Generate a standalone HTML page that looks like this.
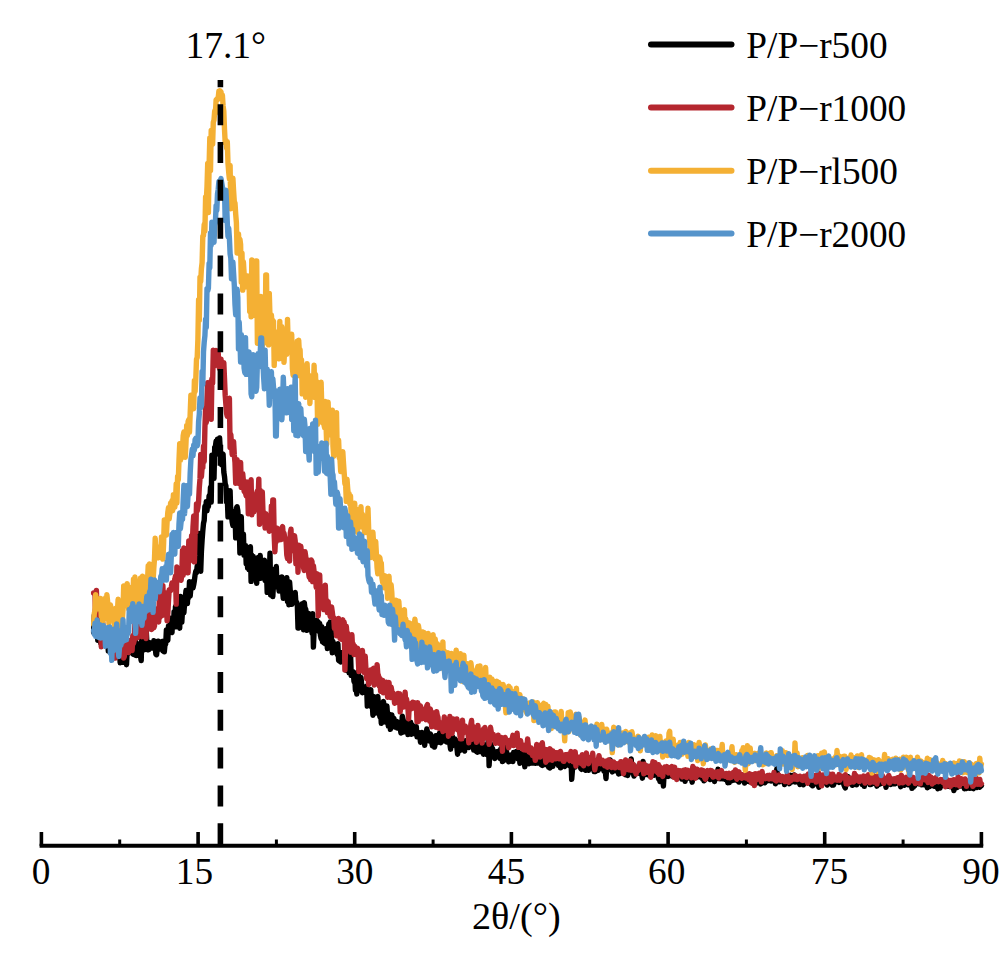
<!DOCTYPE html>
<html><head><meta charset="utf-8"><title>XRD</title>
<style>
html,body{margin:0;padding:0;background:#fff;}
body{width:1000px;height:954px;overflow:hidden;font-family:"Liberation Serif",serif;}
svg{display:block;}
text{font-family:"Liberation Serif",serif;fill:#000;}
</style></head><body>
<svg width="1000" height="954" viewBox="0 0 1000 954">
<rect width="1000" height="954" fill="#fff"/>
<g id="curves">
<path d="M93.6 632.1 L94.3 615.5 L95.0 617.5 L95.7 607.9 L96.4 631.0 L97.1 607.8 L97.8 640.3 L98.5 622.4 L99.2 631.9 L99.9 628.8 L100.6 642.9 L101.3 617.2 L102.0 631.4 L102.7 631.9 L103.4 644.3 L104.1 628.5 L104.8 636.4 L105.5 632.2 L106.2 640.0 L106.9 645.0 L107.6 633.5 L108.3 651.0 L109.0 650.2 L109.7 648.2 L110.4 651.7 L111.1 640.7 L111.8 645.2 L112.5 639.7 L113.2 645.0 L113.9 651.2 L114.6 642.8 L115.3 645.3 L116.0 643.7 L116.7 643.0 L117.4 644.6 L118.1 649.8 L118.8 642.3 L119.5 652.3 L120.2 662.7 L120.9 656.1 L121.6 649.3 L122.3 644.2 L123.0 645.1 L123.7 662.4 L124.4 650.5 L125.1 645.4 L125.8 651.2 L126.5 664.7 L127.2 650.4 L127.9 653.8 L128.6 651.4 L129.3 646.6 L130.0 640.8 L130.7 646.2 L131.4 647.0 L132.1 652.4 L132.8 654.0 L133.5 654.4 L134.2 649.4 L134.9 653.5 L135.6 641.4 L136.3 655.6 L137.0 650.0 L137.7 643.8 L138.4 649.3 L139.1 644.9 L139.8 653.4 L140.5 656.0 L141.2 660.6 L141.9 634.2 L142.6 633.6 L143.3 640.1 L144.0 644.7 L144.7 649.7 L145.4 647.3 L146.1 628.4 L146.8 641.2 L147.5 649.7 L148.2 645.6 L148.9 649.7 L149.6 642.7 L150.3 643.1 L151.0 646.1 L151.7 648.0 L152.4 646.6 L153.1 646.3 L153.8 640.8 L154.5 648.6 L155.2 646.8 L155.9 654.2 L156.6 654.7 L157.3 647.3 L158.0 641.1 L158.7 641.4 L159.4 649.1 L160.1 646.6 L160.8 643.5 L161.5 646.3 L162.2 641.5 L162.9 650.7 L163.6 641.3 L164.3 651.9 L165.0 644.3 L165.7 644.1 L166.4 629.9 L167.1 637.7 L167.8 640.4 L168.5 626.0 L169.2 629.6 L169.9 630.7 L170.6 618.3 L171.3 629.9 L172.0 632.6 L172.7 618.1 L173.4 626.1 L174.1 611.7 L174.8 620.3 L175.5 606.5 L176.2 626.9 L176.9 620.2 L177.6 615.6 L178.3 608.5 L179.0 623.8 L179.7 628.2 L180.4 596.4 L181.1 620.2 L181.8 622.3 L182.5 610.8 L183.2 597.2 L183.9 612.8 L184.6 602.8 L185.3 597.6 L186.0 590.5 L186.7 603.4 L187.4 603.6 L188.1 589.9 L188.8 597.6 L189.5 581.6 L190.2 596.1 L190.9 587.5 L191.6 583.3 L192.3 581.7 L193.0 587.9 L193.7 584.7 L194.4 580.5 L195.1 574.7 L195.8 571.2 L196.5 572.8 L197.2 566.0 L197.9 567.0 L198.6 555.4 L199.3 533.5 L200.0 563.0 L200.7 571.3 L201.4 551.6 L202.1 540.0 L202.8 530.9 L203.5 523.4 L204.2 520.3 L204.9 506.2 L205.6 509.3 L206.3 501.6 L207.0 510.9 L207.7 502.1 L208.4 506.6 L209.1 495.6 L209.8 501.3 L210.5 487.1 L211.2 502.1 L211.9 455.3 L212.6 460.8 L213.3 468.3 L214.0 478.4 L214.7 447.0 L215.4 446.6 L216.1 441.1 L216.8 454.2 L217.5 439.2 L218.2 448.5 L218.9 440.5 L219.6 437.9 L220.3 450.7 L221.0 455.0 L221.7 464.8 L222.4 454.9 L223.1 454.4 L223.8 472.0 L224.5 476.5 L225.2 483.9 L225.9 485.9 L226.6 502.0 L227.3 497.9 L228.0 516.8 L228.7 512.4 L229.4 516.1 L230.1 490.6 L230.8 515.3 L231.5 515.9 L232.2 522.0 L232.9 525.6 L233.6 511.8 L234.3 524.0 L235.0 511.1 L235.7 537.9 L236.4 508.2 L237.1 506.7 L237.8 510.4 L238.5 520.5 L239.2 520.9 L239.9 553.0 L240.6 533.8 L241.3 516.7 L242.0 552.6 L242.7 538.8 L243.4 534.2 L244.1 555.2 L244.8 554.0 L245.5 545.4 L246.2 563.6 L246.9 553.0 L247.6 567.9 L248.3 558.9 L249.0 569.7 L249.7 557.7 L250.4 546.7 L251.1 581.4 L251.8 555.3 L252.5 559.7 L253.2 556.4 L253.9 562.1 L254.6 567.2 L255.3 567.8 L256.0 572.6 L256.7 583.3 L257.4 566.8 L258.1 557.5 L258.8 558.6 L259.5 563.8 L260.2 555.5 L260.9 578.3 L261.6 567.2 L262.3 569.5 L263.0 572.8 L263.7 561.2 L264.4 560.4 L265.1 580.6 L265.8 580.8 L266.5 572.1 L267.2 592.4 L267.9 565.6 L268.6 574.3 L269.3 575.5 L270.0 553.3 L270.7 594.9 L271.4 581.4 L272.1 569.3 L272.8 596.5 L273.5 583.9 L274.2 582.8 L274.9 574.0 L275.6 580.4 L276.3 566.5 L277.0 586.9 L277.7 576.9 L278.4 581.6 L279.1 591.1 L279.8 583.4 L280.5 583.7 L281.2 584.6 L281.9 576.9 L282.6 591.4 L283.3 598.4 L284.0 592.6 L284.7 594.6 L285.4 580.5 L286.1 581.6 L286.8 577.7 L287.5 601.4 L288.2 589.7 L288.9 604.7 L289.6 582.0 L290.3 591.1 L291.0 596.5 L291.7 604.4 L292.4 598.2 L293.1 600.4 L293.8 599.8 L294.5 602.1 L295.2 592.4 L295.9 603.2 L296.6 602.0 L297.3 604.1 L298.0 628.0 L298.7 628.0 L299.4 606.8 L300.1 606.0 L300.8 612.8 L301.5 616.7 L302.2 603.7 L302.9 617.1 L303.6 629.9 L304.3 602.6 L305.0 608.7 L305.7 609.1 L306.4 614.7 L307.1 630.4 L307.8 618.3 L308.5 613.4 L309.2 624.4 L309.9 615.5 L310.6 629.7 L311.3 624.0 L312.0 633.1 L312.7 613.6 L313.4 647.1 L314.1 630.7 L314.8 630.0 L315.5 625.2 L316.2 620.7 L316.9 620.3 L317.6 626.6 L318.3 622.2 L319.0 631.2 L319.7 623.5 L320.4 635.2 L321.1 638.5 L321.8 626.6 L322.5 641.7 L323.2 631.6 L323.9 642.8 L324.6 638.1 L325.3 643.9 L326.0 628.8 L326.7 636.2 L327.4 648.5 L328.1 633.8 L328.8 624.0 L329.5 625.5 L330.2 622.1 L330.9 626.0 L331.6 639.5 L332.3 652.9 L333.0 641.5 L333.7 648.1 L334.4 646.0 L335.1 648.0 L335.8 647.8 L336.5 648.8 L337.2 654.4 L337.9 643.8 L338.6 660.4 L339.3 660.8 L340.0 654.0 L340.7 662.1 L341.4 652.7 L342.1 654.9 L342.8 660.7 L343.5 659.3 L344.2 658.4 L344.9 657.7 L345.6 659.4 L346.3 670.4 L347.0 651.7 L347.7 668.2 L348.4 665.3 L349.1 672.9 L349.8 672.6 L350.5 651.8 L351.2 675.3 L351.9 674.7 L352.6 673.8 L353.3 671.8 L354.0 681.5 L354.7 674.4 L355.4 690.0 L356.1 683.0 L356.8 694.1 L357.5 676.7 L358.2 671.7 L358.9 688.4 L359.6 690.4 L360.3 686.3 L361.0 677.5 L361.7 685.3 L362.4 692.8 L363.1 688.8 L363.8 689.6 L364.5 690.8 L365.2 687.2 L365.9 690.5 L366.6 686.2 L367.3 706.1 L368.0 693.8 L368.7 700.4 L369.4 692.5 L370.1 704.1 L370.8 689.6 L371.5 706.7 L372.2 702.1 L372.9 715.2 L373.6 696.5 L374.3 705.1 L375.0 707.5 L375.7 713.1 L376.4 704.5 L377.1 708.1 L377.8 696.5 L378.5 704.5 L379.2 712.4 L379.9 716.7 L380.6 709.8 L381.3 723.3 L382.0 722.4 L382.7 713.2 L383.4 701.4 L384.1 705.6 L384.8 711.6 L385.5 722.1 L386.2 718.2 L386.9 705.9 L387.6 716.1 L388.3 726.1 L389.0 716.0 L389.7 714.4 L390.4 729.4 L391.1 719.3 L391.8 714.9 L392.5 721.6 L393.2 720.2 L393.9 718.2 L394.6 727.0 L395.3 726.9 L396.0 725.8 L396.7 721.3 L397.4 728.1 L398.1 722.3 L398.8 725.3 L399.5 728.5 L400.2 727.7 L400.9 733.0 L401.6 726.5 L402.3 716.2 L403.0 719.1 L403.7 732.0 L404.4 724.0 L405.1 727.9 L405.8 722.1 L406.5 731.6 L407.2 723.6 L407.9 734.5 L408.6 725.0 L409.3 733.5 L410.0 731.6 L410.7 722.3 L411.4 734.4 L412.1 725.0 L412.8 725.7 L413.5 733.5 L414.2 727.4 L414.9 727.9 L415.6 729.4 L416.3 726.7 L417.0 736.9 L417.7 735.2 L418.4 732.4 L419.1 732.7 L419.8 735.7 L420.5 742.3 L421.2 738.5 L421.9 732.5 L422.6 738.9 L423.3 735.2 L424.0 735.3 L424.7 745.2 L425.4 735.1 L426.1 735.3 L426.8 729.0 L427.5 731.9 L428.2 740.6 L428.9 735.6 L429.6 741.1 L430.3 733.9 L431.0 735.6 L431.7 742.1 L432.4 745.7 L433.1 741.9 L433.8 744.8 L434.5 747.1 L435.2 744.2 L435.9 735.6 L436.6 739.3 L437.3 742.7 L438.0 738.1 L438.7 742.1 L439.4 733.1 L440.1 736.6 L440.8 742.7 L441.5 730.5 L442.2 735.6 L442.9 740.5 L443.6 733.1 L444.3 741.1 L445.0 737.4 L445.7 739.7 L446.4 740.0 L447.1 742.1 L447.8 738.9 L448.5 741.8 L449.2 738.9 L449.9 744.1 L450.6 749.2 L451.3 742.8 L452.0 742.7 L452.7 737.0 L453.4 745.3 L454.1 739.0 L454.8 738.9 L455.5 745.0 L456.2 743.5 L456.9 747.6 L457.6 754.2 L458.3 740.7 L459.0 743.7 L459.7 750.8 L460.4 747.5 L461.1 746.5 L461.8 749.2 L462.5 741.1 L463.2 746.5 L463.9 750.0 L464.6 751.0 L465.3 740.7 L466.0 743.2 L466.7 746.0 L467.4 742.2 L468.1 742.9 L468.8 747.6 L469.5 743.3 L470.2 737.3 L470.9 746.6 L471.6 743.4 L472.3 742.3 L473.0 738.9 L473.7 750.0 L474.4 729.0 L475.1 738.9 L475.8 745.1 L476.5 751.6 L477.2 752.1 L477.9 741.9 L478.6 746.2 L479.3 740.8 L480.0 751.5 L480.7 741.3 L481.4 747.0 L482.1 752.1 L482.8 747.1 L483.5 754.2 L484.2 744.7 L484.9 750.0 L485.6 752.2 L486.3 748.3 L487.0 754.7 L487.7 751.4 L488.4 737.4 L489.1 765.6 L489.8 752.3 L490.5 750.3 L491.2 744.4 L491.9 750.6 L492.6 748.6 L493.3 753.3 L494.0 752.4 L494.7 758.5 L495.4 751.9 L496.1 753.6 L496.8 753.2 L497.5 751.4 L498.2 751.4 L498.9 756.7 L499.6 758.1 L500.3 750.3 L501.0 748.6 L501.7 752.9 L502.4 761.6 L503.1 753.5 L503.8 760.6 L504.5 751.1 L505.2 754.8 L505.9 744.8 L506.6 752.4 L507.3 753.7 L508.0 757.1 L508.7 761.8 L509.4 755.7 L510.1 761.2 L510.8 758.4 L511.5 759.8 L512.2 754.5 L512.9 761.6 L513.6 752.5 L514.3 758.5 L515.0 753.2 L515.7 755.0 L516.4 751.6 L517.1 755.3 L517.8 758.7 L518.5 757.2 L519.2 752.7 L519.9 763.2 L520.6 759.2 L521.3 761.8 L522.0 761.1 L522.7 753.9 L523.4 751.4 L524.1 755.3 L524.8 766.8 L525.5 755.1 L526.2 762.0 L526.9 757.0 L527.6 760.7 L528.3 752.9 L529.0 763.8 L529.7 759.6 L530.4 763.1 L531.1 760.7 L531.8 763.0 L532.5 759.9 L533.2 763.1 L533.9 755.2 L534.6 756.9 L535.3 763.4 L536.0 760.8 L536.7 760.3 L537.4 760.5 L538.1 763.0 L538.8 759.2 L539.5 763.1 L540.2 758.2 L540.9 760.1 L541.6 765.0 L542.3 765.4 L543.0 757.9 L543.7 764.7 L544.4 758.2 L545.1 764.5 L545.8 755.4 L546.5 758.2 L547.2 760.3 L547.9 761.6 L548.6 767.2 L549.3 765.5 L550.0 767.9 L550.7 766.7 L551.4 761.6 L552.1 761.7 L552.8 766.4 L553.5 763.0 L554.2 762.3 L554.9 758.3 L555.6 762.6 L556.3 753.4 L557.0 761.5 L557.7 759.7 L558.4 765.5 L559.1 761.6 L559.8 762.1 L560.5 767.9 L561.2 759.7 L561.9 764.5 L562.6 756.9 L563.3 763.8 L564.0 764.9 L564.7 766.5 L565.4 760.5 L566.1 764.7 L566.8 764.8 L567.5 763.7 L568.2 764.3 L568.9 765.4 L569.6 765.2 L570.3 757.8 L571.0 759.9 L571.7 779.3 L572.4 770.6 L573.1 759.5 L573.8 765.8 L574.5 766.5 L575.2 767.0 L575.9 765.0 L576.6 761.5 L577.3 764.1 L578.0 763.1 L578.7 765.3 L579.4 764.0 L580.1 764.6 L580.8 768.5 L581.5 769.3 L582.2 761.3 L582.9 763.8 L583.6 762.8 L584.3 769.5 L585.0 765.4 L585.7 770.4 L586.4 764.2 L587.1 765.9 L587.8 761.5 L588.5 770.3 L589.2 764.9 L589.9 761.3 L590.6 764.3 L591.3 758.8 L592.0 766.3 L592.7 766.8 L593.4 767.5 L594.1 771.5 L594.8 765.7 L595.5 771.5 L596.2 767.9 L596.9 766.3 L597.6 760.3 L598.3 770.2 L599.0 765.6 L599.7 767.4 L600.4 763.3 L601.1 768.4 L601.8 767.9 L602.5 767.7 L603.2 767.3 L603.9 771.1 L604.6 770.9 L605.3 770.3 L606.0 778.6 L606.7 766.2 L607.4 767.0 L608.1 765.1 L608.8 769.7 L609.5 766.3 L610.2 760.0 L610.9 764.8 L611.6 768.9 L612.3 771.9 L613.0 763.9 L613.7 767.0 L614.4 768.5 L615.1 766.7 L615.8 770.7 L616.5 769.2 L617.2 770.2 L617.9 767.0 L618.6 774.1 L619.3 769.4 L620.0 773.5 L620.7 768.2 L621.4 771.5 L622.1 767.6 L622.8 766.9 L623.5 767.7 L624.2 769.7 L624.9 769.3 L625.6 774.8 L626.3 763.8 L627.0 766.9 L627.7 775.5 L628.4 772.2 L629.1 764.7 L629.8 772.0 L630.5 771.3 L631.2 758.9 L631.9 769.6 L632.6 770.7 L633.3 773.0 L634.0 776.1 L634.7 771.3 L635.4 774.1 L636.1 770.7 L636.8 768.6 L637.5 768.5 L638.2 772.9 L638.9 765.5 L639.6 773.5 L640.3 768.2 L641.0 770.5 L641.7 773.2 L642.4 778.2 L643.1 761.5 L643.8 769.5 L644.5 772.1 L645.2 770.3 L645.9 774.6 L646.6 766.0 L647.3 773.3 L648.0 773.5 L648.7 772.5 L649.4 775.7 L650.1 768.9 L650.8 775.8 L651.5 770.6 L652.2 774.8 L652.9 771.8 L653.6 775.2 L654.3 775.2 L655.0 768.8 L655.7 772.6 L656.4 772.9 L657.1 772.5 L657.8 771.1 L658.5 778.7 L659.2 774.5 L659.9 781.5 L660.6 771.9 L661.3 770.6 L662.0 774.0 L662.7 772.1 L663.4 786.0 L664.1 774.5 L664.8 777.1 L665.5 773.2 L666.2 773.0 L666.9 773.9 L667.6 775.0 L668.3 776.4 L669.0 773.7 L669.7 772.2 L670.4 771.2 L671.1 774.0 L671.8 775.9 L672.5 775.6 L673.2 774.3 L673.9 772.7 L674.6 774.8 L675.3 776.1 L676.0 774.4 L676.7 774.9 L677.4 774.2 L678.1 777.2 L678.8 773.5 L679.5 775.3 L680.2 775.9 L680.9 776.9 L681.6 779.0 L682.3 776.8 L683.0 776.6 L683.7 770.9 L684.4 776.7 L685.1 781.4 L685.8 772.9 L686.5 772.4 L687.2 774.7 L687.9 778.1 L688.6 776.8 L689.3 774.1 L690.0 775.3 L690.7 778.3 L691.4 777.3 L692.1 782.2 L692.8 778.3 L693.5 776.6 L694.2 777.4 L694.9 774.8 L695.6 773.1 L696.3 776.3 L697.0 777.2 L697.7 772.1 L698.4 774.5 L699.1 775.0 L699.8 776.8 L700.5 775.4 L701.2 777.3 L701.9 776.4 L702.6 779.1 L703.3 771.7 L704.0 780.8 L704.7 780.2 L705.4 776.5 L706.1 778.2 L706.8 778.1 L707.5 774.6 L708.2 777.0 L708.9 778.7 L709.6 777.5 L710.3 779.5 L711.0 777.0 L711.7 777.0 L712.4 774.8 L713.1 775.9 L713.8 775.7 L714.5 781.5 L715.2 777.7 L715.9 774.5 L716.6 778.2 L717.3 776.7 L718.0 769.2 L718.7 778.5 L719.4 773.3 L720.1 778.9 L720.8 774.9 L721.5 773.7 L722.2 778.8 L722.9 773.7 L723.6 776.4 L724.3 778.2 L725.0 779.3 L725.7 779.7 L726.4 777.7 L727.1 775.7 L727.8 782.8 L728.5 776.4 L729.2 782.6 L729.9 776.9 L730.6 781.0 L731.3 780.8 L732.0 775.5 L732.7 779.1 L733.4 780.2 L734.1 780.1 L734.8 777.8 L735.5 779.2 L736.2 777.4 L736.9 775.5 L737.6 781.0 L738.3 777.2 L739.0 782.1 L739.7 780.2 L740.4 776.5 L741.1 778.3 L741.8 778.1 L742.5 776.7 L743.2 780.2 L743.9 777.7 L744.6 783.1 L745.3 781.2 L746.0 776.9 L746.7 779.1 L747.4 778.6 L748.1 775.3 L748.8 781.6 L749.5 781.7 L750.2 781.6 L750.9 778.3 L751.6 782.1 L752.3 779.0 L753.0 781.8 L753.7 784.0 L754.4 780.0 L755.1 776.2 L755.8 778.9 L756.5 781.3 L757.2 782.8 L757.9 777.1 L758.6 779.4 L759.3 780.5 L760.0 781.1 L760.7 784.0 L761.4 777.7 L762.1 779.0 L762.8 782.5 L763.5 781.0 L764.2 781.2 L764.9 782.8 L765.6 780.4 L766.3 781.4 L767.0 779.4 L767.7 776.9 L768.4 777.1 L769.1 780.5 L769.8 779.3 L770.5 778.7 L771.2 781.0 L771.9 778.1 L772.6 780.5 L773.3 780.2 L774.0 778.3 L774.7 774.8 L775.4 783.8 L776.1 781.1 L776.8 768.8 L777.5 779.4 L778.2 781.4 L778.9 779.9 L779.6 781.8 L780.3 778.1 L781.0 780.9 L781.7 780.4 L782.4 780.1 L783.1 780.0 L783.8 781.0 L784.5 784.6 L785.2 779.3 L785.9 779.6 L786.6 781.0 L787.3 780.3 L788.0 781.5 L788.7 782.4 L789.4 783.7 L790.1 780.4 L790.8 775.3 L791.5 780.5 L792.2 781.6 L792.9 780.3 L793.6 780.4 L794.3 775.0 L795.0 782.0 L795.7 780.0 L796.4 777.2 L797.1 778.8 L797.8 778.8 L798.5 782.3 L799.2 782.2 L799.9 784.5 L800.6 782.4 L801.3 777.7 L802.0 777.6 L802.7 783.6 L803.4 784.7 L804.1 780.4 L804.8 782.3 L805.5 777.5 L806.2 776.4 L806.9 778.2 L807.6 780.2 L808.3 779.8 L809.0 780.5 L809.7 779.9 L810.4 782.7 L811.1 784.4 L811.8 781.2 L812.5 785.9 L813.2 779.6 L813.9 779.9 L814.6 782.0 L815.3 779.6 L816.0 783.9 L816.7 779.6 L817.4 784.2 L818.1 781.6 L818.8 787.2 L819.5 780.1 L820.2 780.7 L820.9 781.5 L821.6 776.0 L822.3 782.6 L823.0 782.3 L823.7 781.4 L824.4 777.6 L825.1 777.6 L825.8 782.6 L826.5 784.0 L827.2 785.0 L827.9 779.1 L828.6 778.8 L829.3 780.6 L830.0 776.6 L830.7 779.9 L831.4 783.3 L832.1 785.1 L832.8 781.9 L833.5 785.1 L834.2 782.2 L834.9 781.7 L835.6 780.9 L836.3 781.7 L837.0 780.7 L837.7 781.0 L838.4 779.8 L839.1 782.4 L839.8 781.4 L840.5 777.9 L841.2 780.8 L841.9 779.4 L842.6 776.6 L843.3 782.5 L844.0 785.0 L844.7 786.9 L845.4 787.9 L846.1 779.4 L846.8 784.2 L847.5 784.0 L848.2 776.8 L848.9 783.5 L849.6 782.9 L850.3 781.9 L851.0 782.2 L851.7 781.7 L852.4 785.3 L853.1 780.6 L853.8 781.1 L854.5 781.6 L855.2 782.3 L855.9 777.6 L856.6 784.9 L857.3 782.2 L858.0 783.0 L858.7 782.2 L859.4 781.3 L860.1 780.9 L860.8 782.0 L861.5 782.1 L862.2 784.5 L862.9 782.6 L863.6 781.5 L864.3 786.4 L865.0 778.9 L865.7 778.8 L866.4 782.7 L867.1 781.4 L867.8 777.9 L868.5 781.2 L869.2 780.3 L869.9 784.6 L870.6 780.6 L871.3 784.4 L872.0 783.9 L872.7 781.6 L873.4 782.1 L874.1 783.1 L874.8 776.8 L875.5 782.9 L876.2 781.3 L876.9 786.2 L877.6 780.6 L878.3 784.8 L879.0 776.5 L879.7 784.1 L880.4 782.9 L881.1 781.7 L881.8 782.0 L882.5 781.7 L883.2 783.3 L883.9 781.8 L884.6 778.3 L885.3 781.9 L886.0 787.4 L886.7 782.5 L887.4 783.1 L888.1 781.4 L888.8 782.8 L889.5 782.9 L890.2 781.9 L890.9 784.4 L891.6 780.4 L892.3 782.2 L893.0 783.7 L893.7 782.0 L894.4 779.8 L895.1 783.8 L895.8 780.4 L896.5 781.6 L897.2 780.8 L897.9 782.4 L898.6 781.7 L899.3 781.6 L900.0 784.2 L900.7 786.7 L901.4 781.9 L902.1 783.9 L902.8 782.0 L903.5 783.0 L904.2 785.3 L904.9 782.9 L905.6 781.0 L906.3 781.2 L907.0 781.5 L907.7 782.9 L908.4 784.8 L909.1 779.9 L909.8 780.7 L910.5 780.9 L911.2 779.1 L911.9 788.3 L912.6 782.9 L913.3 787.2 L914.0 779.9 L914.7 785.9 L915.4 781.6 L916.1 782.3 L916.8 781.0 L917.5 781.1 L918.2 780.3 L918.9 783.7 L919.6 780.4 L920.3 782.4 L921.0 783.3 L921.7 784.8 L922.4 783.6 L923.1 784.1 L923.8 784.6 L924.5 783.4 L925.2 784.3 L925.9 781.4 L926.6 781.9 L927.3 787.7 L928.0 783.6 L928.7 782.1 L929.4 786.6 L930.1 783.1 L930.8 782.3 L931.5 778.1 L932.2 785.4 L932.9 781.5 L933.6 782.7 L934.3 786.3 L935.0 784.3 L935.7 783.7 L936.4 783.5 L937.1 786.4 L937.8 788.7 L938.5 782.8 L939.2 785.2 L939.9 788.1 L940.6 786.4 L941.3 782.6 L942.0 782.5 L942.7 782.9 L943.4 782.2 L944.1 782.9 L944.8 784.8 L945.5 783.0 L946.2 786.1 L946.9 784.6 L947.6 783.5 L948.3 786.2 L949.0 785.1 L949.7 785.0 L950.4 786.6 L951.1 785.7 L951.8 784.3 L952.5 786.5 L953.2 785.2 L953.9 790.6 L954.6 786.9 L955.3 787.0 L956.0 787.3 L956.7 784.8 L957.4 787.4 L958.1 784.8 L958.8 781.7 L959.5 783.6 L960.2 785.9 L960.9 781.6 L961.6 785.3 L962.3 783.4 L963.0 786.4 L963.7 782.2 L964.4 788.8 L965.1 786.6 L965.8 782.4 L966.5 788.6 L967.2 784.6 L967.9 783.6 L968.6 783.0 L969.3 786.3 L970.0 788.2 L970.7 784.0 L971.4 783.2 L972.1 782.9 L972.8 788.3 L973.5 788.7 L974.2 784.1 L974.9 786.4 L975.6 785.4 L976.3 785.3 L977.0 787.4 L977.7 786.3 L978.4 786.1 L979.1 784.9 L979.8 787.2 L980.5 785.0 L981.4 785.7" fill="none" stroke="#000000" stroke-width="5.4" stroke-linejoin="round" stroke-linecap="round"/>
<path d="M93.6 593.0 L94.3 593.0 L95.0 593.0 L95.7 626.0 L96.4 590.5 L97.1 611.9 L97.8 624.8 L98.5 613.4 L99.2 617.2 L99.9 620.4 L100.6 632.8 L101.3 646.8 L102.0 630.3 L102.7 622.2 L103.4 635.5 L104.1 627.6 L104.8 632.7 L105.5 642.4 L106.2 628.6 L106.9 635.0 L107.6 629.0 L108.3 635.1 L109.0 638.9 L109.7 630.3 L110.4 635.7 L111.1 637.0 L111.8 634.5 L112.5 631.0 L113.2 629.7 L113.9 639.6 L114.6 639.2 L115.3 658.1 L116.0 624.3 L116.7 643.5 L117.4 645.9 L118.1 653.6 L118.8 647.8 L119.5 638.5 L120.2 645.0 L120.9 649.1 L121.6 642.9 L122.3 650.9 L123.0 631.8 L123.7 658.0 L124.4 656.2 L125.1 643.2 L125.8 650.2 L126.5 646.2 L127.2 639.9 L127.9 646.4 L128.6 652.5 L129.3 641.7 L130.0 640.9 L130.7 642.2 L131.4 645.1 L132.1 650.5 L132.8 635.6 L133.5 643.3 L134.2 640.4 L134.9 624.3 L135.6 634.3 L136.3 635.7 L137.0 635.7 L137.7 637.7 L138.4 619.3 L139.1 634.2 L139.8 624.0 L140.5 621.6 L141.2 635.8 L141.9 636.7 L142.6 625.4 L143.3 636.1 L144.0 625.9 L144.7 628.5 L145.4 618.7 L146.1 638.5 L146.8 604.9 L147.5 623.9 L148.2 629.2 L148.9 607.1 L149.6 620.6 L150.3 620.6 L151.0 626.9 L151.7 629.4 L152.4 613.0 L153.1 606.9 L153.8 627.9 L154.5 625.9 L155.2 608.7 L155.9 617.2 L156.6 619.0 L157.3 617.1 L158.0 613.2 L158.7 622.0 L159.4 595.7 L160.1 617.2 L160.8 610.9 L161.5 605.1 L162.2 615.5 L162.9 585.8 L163.6 613.5 L164.3 606.2 L165.0 592.7 L165.7 604.7 L166.4 597.7 L167.1 620.7 L167.8 613.5 L168.5 600.7 L169.2 589.8 L169.9 589.6 L170.6 590.5 L171.3 587.2 L172.0 583.0 L172.7 584.3 L173.4 585.7 L174.1 582.3 L174.8 579.5 L175.5 576.0 L176.2 604.1 L176.9 567.0 L177.6 568.6 L178.3 579.1 L179.0 570.4 L179.7 575.5 L180.4 577.5 L181.1 580.3 L181.8 574.5 L182.5 550.5 L183.2 575.2 L183.9 548.0 L184.6 561.6 L185.3 556.8 L186.0 550.4 L186.7 564.0 L187.4 555.6 L188.1 572.8 L188.8 541.0 L189.5 561.0 L190.2 556.5 L190.9 551.7 L191.6 535.8 L192.3 543.9 L193.0 527.0 L193.7 516.0 L194.4 561.9 L195.1 532.8 L195.8 532.7 L196.5 503.9 L197.2 511.1 L197.9 507.5 L198.6 501.1 L199.3 487.6 L200.0 478.9 L200.7 454.5 L201.4 476.9 L202.1 467.5 L202.8 467.8 L203.5 446.1 L204.2 461.4 L204.9 428.0 L205.6 407.9 L206.3 422.5 L207.0 398.0 L207.7 382.7 L208.4 393.3 L209.1 395.1 L209.8 383.6 L210.5 381.9 L211.2 419.3 L211.9 378.9 L212.6 383.5 L213.3 350.3 L214.0 364.8 L214.7 365.6 L215.4 352.4 L216.1 350.5 L216.8 357.6 L217.5 353.5 L218.2 352.9 L218.9 366.3 L219.6 368.8 L220.3 363.1 L221.0 359.1 L221.7 367.4 L222.4 371.7 L223.1 374.0 L223.8 362.7 L224.5 378.3 L225.2 395.4 L225.9 404.6 L226.6 413.5 L227.3 416.3 L228.0 400.7 L228.7 410.0 L229.4 398.2 L230.1 447.4 L230.8 434.4 L231.5 443.9 L232.2 454.6 L232.9 445.1 L233.6 441.6 L234.3 454.9 L235.0 462.6 L235.7 483.2 L236.4 478.5 L237.1 459.7 L237.8 480.4 L238.5 483.3 L239.2 466.4 L239.9 478.6 L240.6 462.4 L241.3 487.4 L242.0 482.7 L242.7 473.5 L243.4 481.1 L244.1 491.3 L244.8 483.5 L245.5 492.8 L246.2 495.9 L246.9 482.0 L247.6 487.9 L248.3 513.7 L249.0 493.3 L249.7 483.8 L250.4 493.6 L251.1 479.7 L251.8 514.8 L252.5 498.1 L253.2 505.9 L253.9 511.9 L254.6 499.8 L255.3 506.8 L256.0 500.2 L256.7 493.0 L257.4 490.9 L258.1 498.3 L258.8 479.1 L259.5 524.3 L260.2 490.3 L260.9 508.2 L261.6 497.4 L262.3 491.9 L263.0 512.8 L263.7 512.2 L264.4 515.1 L265.1 528.0 L265.8 513.7 L266.5 525.1 L267.2 527.9 L267.9 520.9 L268.6 522.4 L269.3 531.3 L270.0 527.6 L270.7 529.5 L271.4 505.9 L272.1 530.4 L272.8 500.0 L273.5 500.0 L274.2 535.8 L274.9 551.7 L275.6 535.9 L276.3 541.7 L277.0 528.2 L277.7 529.1 L278.4 533.5 L279.1 529.4 L279.8 539.8 L280.5 531.8 L281.2 539.6 L281.9 528.2 L282.6 526.6 L283.3 536.3 L284.0 533.1 L284.7 537.5 L285.4 538.4 L286.1 541.3 L286.8 554.9 L287.5 558.4 L288.2 552.9 L288.9 543.2 L289.6 561.0 L290.3 533.3 L291.0 529.2 L291.7 551.0 L292.4 549.0 L293.1 548.3 L293.8 550.5 L294.5 535.7 L295.2 540.9 L295.9 563.7 L296.6 562.5 L297.3 547.1 L298.0 572.2 L298.7 545.3 L299.4 550.6 L300.1 559.2 L300.8 546.3 L301.5 553.5 L302.2 557.1 L302.9 555.8 L303.6 568.0 L304.3 570.5 L305.0 551.6 L305.7 556.4 L306.4 565.5 L307.1 564.8 L307.8 559.8 L308.5 572.1 L309.2 577.1 L309.9 565.7 L310.6 579.7 L311.3 560.0 L312.0 561.6 L312.7 581.6 L313.4 565.6 L314.1 571.5 L314.8 579.4 L315.5 577.3 L316.2 587.4 L316.9 573.6 L317.6 584.3 L318.3 615.7 L319.0 590.9 L319.7 574.9 L320.4 601.4 L321.1 598.0 L321.8 606.1 L322.5 596.9 L323.2 591.3 L323.9 609.6 L324.6 604.9 L325.3 585.2 L326.0 607.4 L326.7 600.4 L327.4 612.6 L328.1 601.5 L328.8 612.1 L329.5 608.4 L330.2 616.5 L330.9 609.0 L331.6 607.1 L332.3 612.2 L333.0 618.0 L333.7 617.5 L334.4 628.3 L335.1 620.1 L335.8 623.0 L336.5 635.8 L337.2 621.0 L337.9 626.0 L338.6 618.4 L339.3 624.6 L340.0 638.3 L340.7 629.2 L341.4 639.2 L342.1 621.2 L342.8 619.9 L343.5 634.0 L344.2 622.3 L344.9 669.9 L345.6 644.0 L346.3 626.3 L347.0 635.3 L347.7 633.2 L348.4 641.6 L349.1 639.1 L349.8 647.3 L350.5 652.2 L351.2 640.8 L351.9 634.8 L352.6 648.5 L353.3 644.1 L354.0 654.6 L354.7 646.2 L355.4 654.2 L356.1 651.7 L356.8 649.1 L357.5 648.3 L358.2 657.7 L358.9 671.6 L359.6 660.8 L360.3 655.1 L361.0 662.1 L361.7 659.1 L362.4 650.5 L363.1 662.6 L363.8 672.3 L364.5 660.6 L365.2 656.2 L365.9 668.3 L366.6 678.5 L367.3 673.6 L368.0 675.1 L368.7 684.6 L369.4 680.7 L370.1 675.3 L370.8 669.9 L371.5 672.8 L372.2 671.9 L372.9 678.8 L373.6 668.3 L374.3 685.0 L375.0 676.7 L375.7 673.9 L376.4 682.6 L377.1 664.8 L377.8 673.7 L378.5 675.6 L379.2 685.9 L379.9 678.4 L380.6 691.3 L381.3 680.3 L382.0 687.2 L382.7 680.4 L383.4 692.8 L384.1 684.9 L384.8 690.5 L385.5 685.1 L386.2 682.2 L386.9 688.3 L387.6 697.2 L388.3 685.0 L389.0 682.5 L389.7 690.5 L390.4 697.6 L391.1 687.1 L391.8 690.8 L392.5 695.7 L393.2 693.2 L393.9 697.4 L394.6 703.3 L395.3 696.9 L396.0 697.0 L396.7 702.4 L397.4 698.1 L398.1 693.5 L398.8 693.7 L399.5 693.7 L400.2 711.8 L400.9 701.1 L401.6 705.2 L402.3 706.6 L403.0 697.6 L403.7 707.0 L404.4 700.5 L405.1 692.2 L405.8 703.3 L406.5 698.8 L407.2 703.3 L407.9 707.5 L408.6 718.8 L409.3 703.6 L410.0 705.8 L410.7 709.2 L411.4 708.5 L412.1 707.0 L412.8 702.2 L413.5 703.3 L414.2 708.0 L414.9 702.9 L415.6 706.1 L416.3 703.2 L417.0 721.6 L417.7 702.6 L418.4 721.6 L419.1 708.5 L419.8 706.3 L420.5 706.0 L421.2 717.0 L421.9 718.8 L422.6 709.0 L423.3 715.8 L424.0 713.6 L424.7 712.5 L425.4 716.0 L426.1 719.7 L426.8 705.8 L427.5 704.6 L428.2 717.9 L428.9 716.8 L429.6 721.2 L430.3 709.0 L431.0 713.2 L431.7 726.8 L432.4 712.4 L433.1 721.5 L433.8 715.9 L434.5 718.3 L435.2 713.7 L435.9 727.2 L436.6 711.6 L437.3 715.5 L438.0 717.2 L438.7 728.2 L439.4 723.9 L440.1 726.1 L440.8 722.9 L441.5 724.4 L442.2 728.0 L442.9 731.5 L443.6 725.2 L444.3 716.9 L445.0 730.3 L445.7 725.2 L446.4 719.5 L447.1 724.4 L447.8 720.7 L448.5 736.2 L449.2 724.4 L449.9 716.4 L450.6 729.3 L451.3 722.8 L452.0 733.5 L452.7 728.6 L453.4 718.9 L454.1 725.4 L454.8 722.8 L455.5 724.7 L456.2 725.5 L456.9 719.0 L457.6 729.9 L458.3 724.9 L459.0 725.0 L459.7 733.1 L460.4 738.8 L461.1 726.8 L461.8 738.8 L462.5 720.3 L463.2 733.1 L463.9 727.7 L464.6 730.3 L465.3 726.1 L466.0 728.2 L466.7 729.7 L467.4 728.4 L468.1 733.5 L468.8 742.8 L469.5 728.9 L470.2 731.4 L470.9 724.0 L471.6 720.5 L472.3 739.2 L473.0 726.5 L473.7 729.4 L474.4 733.2 L475.1 737.6 L475.8 735.0 L476.5 742.4 L477.2 733.0 L477.9 725.4 L478.6 735.4 L479.3 734.9 L480.0 730.7 L480.7 733.2 L481.4 732.2 L482.1 743.1 L482.8 732.4 L483.5 729.0 L484.2 736.9 L484.9 727.4 L485.6 737.9 L486.3 738.0 L487.0 732.4 L487.7 733.9 L488.4 733.9 L489.1 744.2 L489.8 738.8 L490.5 727.3 L491.2 731.7 L491.9 737.2 L492.6 737.7 L493.3 734.4 L494.0 739.4 L494.7 736.7 L495.4 743.3 L496.1 740.6 L496.8 738.4 L497.5 739.6 L498.2 735.2 L498.9 743.3 L499.6 741.2 L500.3 737.8 L501.0 740.8 L501.7 737.6 L502.4 751.3 L503.1 738.4 L503.8 742.8 L504.5 742.3 L505.2 737.4 L505.9 741.1 L506.6 739.8 L507.3 742.5 L508.0 742.7 L508.7 747.8 L509.4 745.4 L510.1 740.3 L510.8 740.0 L511.5 739.9 L512.2 738.9 L512.9 735.3 L513.6 745.6 L514.3 742.8 L515.0 742.4 L515.7 736.4 L516.4 737.3 L517.1 733.2 L517.8 743.8 L518.5 747.4 L519.2 747.3 L519.9 744.7 L520.6 740.7 L521.3 745.5 L522.0 745.8 L522.7 749.1 L523.4 749.6 L524.1 745.5 L524.8 746.7 L525.5 750.0 L526.2 749.3 L526.9 746.9 L527.6 738.9 L528.3 745.4 L529.0 751.9 L529.7 749.3 L530.4 752.8 L531.1 747.8 L531.8 749.8 L532.5 755.5 L533.2 752.7 L533.9 751.8 L534.6 754.9 L535.3 760.4 L536.0 756.5 L536.7 744.5 L537.4 749.3 L538.1 750.1 L538.8 750.1 L539.5 745.2 L540.2 757.0 L540.9 748.0 L541.6 752.5 L542.3 742.7 L543.0 750.4 L543.7 751.5 L544.4 749.0 L545.1 755.7 L545.8 762.2 L546.5 749.6 L547.2 749.8 L547.9 760.2 L548.6 755.7 L549.3 752.4 L550.0 748.8 L550.7 756.7 L551.4 754.8 L552.1 760.2 L552.8 750.9 L553.5 753.8 L554.2 752.4 L554.9 753.9 L555.6 758.9 L556.3 758.2 L557.0 752.7 L557.7 754.9 L558.4 754.5 L559.1 758.9 L559.8 755.0 L560.5 751.5 L561.2 754.6 L561.9 755.8 L562.6 759.6 L563.3 761.1 L564.0 761.3 L564.7 757.9 L565.4 754.7 L566.1 759.0 L566.8 755.6 L567.5 754.7 L568.2 758.2 L568.9 758.8 L569.6 760.6 L570.3 754.2 L571.0 751.5 L571.7 759.7 L572.4 754.4 L573.1 761.7 L573.8 754.1 L574.5 756.2 L575.2 751.8 L575.9 766.0 L576.6 757.0 L577.3 758.5 L578.0 757.0 L578.7 758.2 L579.4 762.2 L580.1 759.7 L580.8 759.4 L581.5 763.9 L582.2 754.8 L582.9 763.9 L583.6 765.7 L584.3 755.1 L585.0 761.2 L585.7 755.8 L586.4 753.0 L587.1 757.6 L587.8 762.6 L588.5 763.6 L589.2 759.7 L589.9 758.1 L590.6 759.7 L591.3 758.9 L592.0 759.3 L592.7 753.2 L593.4 761.0 L594.1 761.5 L594.8 769.7 L595.5 764.6 L596.2 761.8 L596.9 762.7 L597.6 763.7 L598.3 760.3 L599.0 755.7 L599.7 760.5 L600.4 762.3 L601.1 763.6 L601.8 760.9 L602.5 760.4 L603.2 762.7 L603.9 764.0 L604.6 765.8 L605.3 763.2 L606.0 765.6 L606.7 760.9 L607.4 767.2 L608.1 764.4 L608.8 760.1 L609.5 764.0 L610.2 765.3 L610.9 761.5 L611.6 767.5 L612.3 764.0 L613.0 766.7 L613.7 762.0 L614.4 766.4 L615.1 767.8 L615.8 764.0 L616.5 764.9 L617.2 763.8 L617.9 766.8 L618.6 765.9 L619.3 767.5 L620.0 765.7 L620.7 761.8 L621.4 761.8 L622.1 764.7 L622.8 767.7 L623.5 773.7 L624.2 769.2 L624.9 764.4 L625.6 759.9 L626.3 768.2 L627.0 766.7 L627.7 762.8 L628.4 769.7 L629.1 766.9 L629.8 765.6 L630.5 760.8 L631.2 770.2 L631.9 767.4 L632.6 766.4 L633.3 764.2 L634.0 766.2 L634.7 771.4 L635.4 769.2 L636.1 774.0 L636.8 771.0 L637.5 768.8 L638.2 770.6 L638.9 768.4 L639.6 763.3 L640.3 766.1 L641.0 769.1 L641.7 765.2 L642.4 766.6 L643.1 764.3 L643.8 773.7 L644.5 764.3 L645.2 765.2 L645.9 765.8 L646.6 771.7 L647.3 772.2 L648.0 767.0 L648.7 770.6 L649.4 766.1 L650.1 769.0 L650.8 777.2 L651.5 772.1 L652.2 769.1 L652.9 761.8 L653.6 768.4 L654.3 765.3 L655.0 762.7 L655.7 771.4 L656.4 771.4 L657.1 770.3 L657.8 772.8 L658.5 764.7 L659.2 774.2 L659.9 766.7 L660.6 771.2 L661.3 771.5 L662.0 773.5 L662.7 776.4 L663.4 771.4 L664.1 769.2 L664.8 767.1 L665.5 771.3 L666.2 768.0 L666.9 766.6 L667.6 770.1 L668.3 772.9 L669.0 770.0 L669.7 767.8 L670.4 771.5 L671.1 767.4 L671.8 766.6 L672.5 775.6 L673.2 772.0 L673.9 777.3 L674.6 767.1 L675.3 774.6 L676.0 771.1 L676.7 779.6 L677.4 771.1 L678.1 770.5 L678.8 773.1 L679.5 772.5 L680.2 770.7 L680.9 774.8 L681.6 774.2 L682.3 776.9 L683.0 773.5 L683.7 770.3 L684.4 770.4 L685.1 774.2 L685.8 769.8 L686.5 777.5 L687.2 772.7 L687.9 770.3 L688.6 775.7 L689.3 772.6 L690.0 776.2 L690.7 773.4 L691.4 777.9 L692.1 771.7 L692.8 766.5 L693.5 768.5 L694.2 768.2 L694.9 774.7 L695.6 778.2 L696.3 772.5 L697.0 769.2 L697.7 775.1 L698.4 774.5 L699.1 772.1 L699.8 774.4 L700.5 773.3 L701.2 770.0 L701.9 775.3 L702.6 771.9 L703.3 770.7 L704.0 772.7 L704.7 777.9 L705.4 779.1 L706.1 777.5 L706.8 772.1 L707.5 770.6 L708.2 774.6 L708.9 773.2 L709.6 774.1 L710.3 770.5 L711.0 771.3 L711.7 770.8 L712.4 776.1 L713.1 777.0 L713.8 772.1 L714.5 775.8 L715.2 776.0 L715.9 772.2 L716.6 774.3 L717.3 776.7 L718.0 771.6 L718.7 778.0 L719.4 774.0 L720.1 774.8 L720.8 774.0 L721.5 770.6 L722.2 775.8 L722.9 774.9 L723.6 773.8 L724.3 774.4 L725.0 776.2 L725.7 774.7 L726.4 773.7 L727.1 775.5 L727.8 777.4 L728.5 775.5 L729.2 773.3 L729.9 777.8 L730.6 774.8 L731.3 777.3 L732.0 775.3 L732.7 773.2 L733.4 772.4 L734.1 773.5 L734.8 775.3 L735.5 769.9 L736.2 777.9 L736.9 779.1 L737.6 775.5 L738.3 773.2 L739.0 771.8 L739.7 776.9 L740.4 777.4 L741.1 776.5 L741.8 778.3 L742.5 774.7 L743.2 775.8 L743.9 777.3 L744.6 776.0 L745.3 777.9 L746.0 778.0 L746.7 776.0 L747.4 774.2 L748.1 774.9 L748.8 779.7 L749.5 773.7 L750.2 777.1 L750.9 774.3 L751.6 783.1 L752.3 775.4 L753.0 778.7 L753.7 774.6 L754.4 785.6 L755.1 773.7 L755.8 778.2 L756.5 774.0 L757.2 779.5 L757.9 774.1 L758.6 776.3 L759.3 773.3 L760.0 776.5 L760.7 777.5 L761.4 782.1 L762.1 771.5 L762.8 779.0 L763.5 777.7 L764.2 776.0 L764.9 777.0 L765.6 778.6 L766.3 777.5 L767.0 777.5 L767.7 775.6 L768.4 776.6 L769.1 778.9 L769.8 775.3 L770.5 776.4 L771.2 777.9 L771.9 778.6 L772.6 778.8 L773.3 777.2 L774.0 772.5 L774.7 779.8 L775.4 780.4 L776.1 780.9 L776.8 778.7 L777.5 780.0 L778.2 777.1 L778.9 775.0 L779.6 777.4 L780.3 777.3 L781.0 780.5 L781.7 780.0 L782.4 776.6 L783.1 776.9 L783.8 777.8 L784.5 778.2 L785.2 781.6 L785.9 776.7 L786.6 781.3 L787.3 774.4 L788.0 776.2 L788.7 782.3 L789.4 779.0 L790.1 778.2 L790.8 780.7 L791.5 777.4 L792.2 778.1 L792.9 778.6 L793.6 778.6 L794.3 778.9 L795.0 775.3 L795.7 778.9 L796.4 776.2 L797.1 779.5 L797.8 777.6 L798.5 778.7 L799.2 778.7 L799.9 776.2 L800.6 776.7 L801.3 777.7 L802.0 780.1 L802.7 780.5 L803.4 777.9 L804.1 776.3 L804.8 778.7 L805.5 778.0 L806.2 780.0 L806.9 781.2 L807.6 783.1 L808.3 773.9 L809.0 776.9 L809.7 777.9 L810.4 780.1 L811.1 779.8 L811.8 778.3 L812.5 780.1 L813.2 776.7 L813.9 777.2 L814.6 778.9 L815.3 775.4 L816.0 782.1 L816.7 776.1 L817.4 775.3 L818.1 779.0 L818.8 773.3 L819.5 777.1 L820.2 777.8 L820.9 781.4 L821.6 785.9 L822.3 778.6 L823.0 774.9 L823.7 778.9 L824.4 779.9 L825.1 775.9 L825.8 779.1 L826.5 782.2 L827.2 779.5 L827.9 776.3 L828.6 776.8 L829.3 774.1 L830.0 777.2 L830.7 776.8 L831.4 781.8 L832.1 774.3 L832.8 774.3 L833.5 778.8 L834.2 779.8 L834.9 776.9 L835.6 778.8 L836.3 780.0 L837.0 780.2 L837.7 779.2 L838.4 779.7 L839.1 774.4 L839.8 780.3 L840.5 778.7 L841.2 776.2 L841.9 777.3 L842.6 777.6 L843.3 777.0 L844.0 777.9 L844.7 777.4 L845.4 774.7 L846.1 783.8 L846.8 779.3 L847.5 784.0 L848.2 777.7 L848.9 782.5 L849.6 778.1 L850.3 782.4 L851.0 780.8 L851.7 780.4 L852.4 778.1 L853.1 779.5 L853.8 781.9 L854.5 773.5 L855.2 776.9 L855.9 775.5 L856.6 776.3 L857.3 780.2 L858.0 780.8 L858.7 778.2 L859.4 781.5 L860.1 776.9 L860.8 777.2 L861.5 779.1 L862.2 779.8 L862.9 778.5 L863.6 776.1 L864.3 780.2 L865.0 783.1 L865.7 777.9 L866.4 779.0 L867.1 776.1 L867.8 778.9 L868.5 774.8 L869.2 779.4 L869.9 782.8 L870.6 780.3 L871.3 777.2 L872.0 781.0 L872.7 774.7 L873.4 782.1 L874.1 779.8 L874.8 776.4 L875.5 778.3 L876.2 776.9 L876.9 784.1 L877.6 780.6 L878.3 776.7 L879.0 777.5 L879.7 779.6 L880.4 777.8 L881.1 779.8 L881.8 780.2 L882.5 775.7 L883.2 782.0 L883.9 783.4 L884.6 780.1 L885.3 780.9 L886.0 778.1 L886.7 778.1 L887.4 780.1 L888.1 777.2 L888.8 775.4 L889.5 783.1 L890.2 777.9 L890.9 780.0 L891.6 779.8 L892.3 780.5 L893.0 781.0 L893.7 780.8 L894.4 778.8 L895.1 781.6 L895.8 778.7 L896.5 780.5 L897.2 778.1 L897.9 779.8 L898.6 777.6 L899.3 783.1 L900.0 780.5 L900.7 777.9 L901.4 775.3 L902.1 778.0 L902.8 782.9 L903.5 778.2 L904.2 782.2 L904.9 779.3 L905.6 779.0 L906.3 777.3 L907.0 780.5 L907.7 782.3 L908.4 783.2 L909.1 781.1 L909.8 777.4 L910.5 780.1 L911.2 777.1 L911.9 777.9 L912.6 780.8 L913.3 777.4 L914.0 781.2 L914.7 778.6 L915.4 783.5 L916.1 779.7 L916.8 781.2 L917.5 782.5 L918.2 781.5 L918.9 781.7 L919.6 776.0 L920.3 783.9 L921.0 776.3 L921.7 778.6 L922.4 774.4 L923.1 779.5 L923.8 777.2 L924.5 779.7 L925.2 778.0 L925.9 779.9 L926.6 778.6 L927.3 779.9 L928.0 782.4 L928.7 775.3 L929.4 780.4 L930.1 780.1 L930.8 776.9 L931.5 779.5 L932.2 784.0 L932.9 781.5 L933.6 779.3 L934.3 782.4 L935.0 781.6 L935.7 777.7 L936.4 779.9 L937.1 780.7 L937.8 780.9 L938.5 781.7 L939.2 780.9 L939.9 781.0 L940.6 779.7 L941.3 780.1 L942.0 779.8 L942.7 782.2 L943.4 780.4 L944.1 779.7 L944.8 782.9 L945.5 786.8 L946.2 780.9 L946.9 784.2 L947.6 780.0 L948.3 781.8 L949.0 783.5 L949.7 784.0 L950.4 786.4 L951.1 780.4 L951.8 781.7 L952.5 784.7 L953.2 784.6 L953.9 779.7 L954.6 781.7 L955.3 784.0 L956.0 784.6 L956.7 779.6 L957.4 782.6 L958.1 776.8 L958.8 784.2 L959.5 785.9 L960.2 779.4 L960.9 781.5 L961.6 778.8 L962.3 781.0 L963.0 783.3 L963.7 783.4 L964.4 783.0 L965.1 779.0 L965.8 780.3 L966.5 786.4 L967.2 782.8 L967.9 781.3 L968.6 782.9 L969.3 781.0 L970.0 782.7 L970.7 780.6 L971.4 780.9 L972.1 778.9 L972.8 786.4 L973.5 784.1 L974.2 785.0 L974.9 784.5 L975.6 782.3 L976.3 778.2 L977.0 783.8 L977.7 784.2 L978.4 783.9 L979.1 781.8 L979.8 779.4 L980.5 784.5 L981.4 783.7" fill="none" stroke="#b5272f" stroke-width="5.4" stroke-linejoin="round" stroke-linecap="round"/>
<path d="M93.6 624.4 L94.3 613.4 L95.0 610.6 L95.7 594.6 L96.4 607.3 L97.1 606.6 L97.8 608.7 L98.5 600.1 L99.2 608.8 L99.9 605.2 L100.6 598.5 L101.3 616.5 L102.0 616.6 L102.7 623.5 L103.4 610.3 L104.1 606.8 L104.8 605.8 L105.5 597.9 L106.2 618.5 L106.9 594.8 L107.6 601.4 L108.3 609.7 L109.0 623.8 L109.7 614.4 L110.4 604.9 L111.1 608.0 L111.8 619.3 L112.5 613.7 L113.2 609.4 L113.9 614.3 L114.6 622.7 L115.3 633.0 L116.0 608.1 L116.7 613.2 L117.4 611.9 L118.1 599.3 L118.8 611.3 L119.5 610.6 L120.2 627.7 L120.9 617.5 L121.6 604.3 L122.3 620.4 L123.0 610.3 L123.7 585.9 L124.4 604.3 L125.1 602.3 L125.8 597.9 L126.5 603.7 L127.2 583.7 L127.9 599.1 L128.6 608.9 L129.3 606.7 L130.0 608.0 L130.7 607.3 L131.4 609.6 L132.1 587.0 L132.8 602.6 L133.5 579.1 L134.2 588.8 L134.9 576.9 L135.6 601.0 L136.3 602.7 L137.0 588.9 L137.7 604.9 L138.4 583.4 L139.1 589.7 L139.8 589.0 L140.5 577.9 L141.2 590.0 L141.9 602.2 L142.6 576.1 L143.3 591.9 L144.0 582.1 L144.7 598.0 L145.4 586.1 L146.1 586.9 L146.8 585.6 L147.5 581.1 L148.2 565.8 L148.9 589.1 L149.6 563.9 L150.3 577.0 L151.0 579.3 L151.7 565.5 L152.4 573.1 L153.1 580.9 L153.8 568.4 L154.5 558.6 L155.2 538.3 L155.9 553.7 L156.6 555.0 L157.3 553.6 L158.0 547.5 L158.7 557.7 L159.4 546.8 L160.1 549.0 L160.8 554.1 L161.5 536.9 L162.2 538.9 L162.9 559.1 L163.6 543.8 L164.3 520.0 L165.0 528.5 L165.7 531.6 L166.4 535.2 L167.1 521.8 L167.8 512.4 L168.5 507.7 L169.2 518.8 L169.9 513.1 L170.6 503.0 L171.3 504.7 L172.0 500.8 L172.7 510.7 L173.4 494.8 L174.1 505.1 L174.8 507.1 L175.5 500.9 L176.2 484.0 L176.9 503.0 L177.6 476.5 L178.3 480.0 L179.0 460.1 L179.7 443.8 L180.4 460.4 L181.1 456.9 L181.8 448.9 L182.5 449.0 L183.2 435.5 L183.9 432.0 L184.6 436.1 L185.3 457.2 L186.0 442.7 L186.7 425.5 L187.4 435.5 L188.1 421.5 L188.8 419.6 L189.5 432.2 L190.2 413.0 L190.9 395.1 L191.6 398.8 L192.3 405.3 L193.0 400.7 L193.7 408.8 L194.4 380.5 L195.1 391.7 L195.8 378.9 L196.5 359.2 L197.2 357.5 L197.9 339.4 L198.6 299.6 L199.3 320.3 L200.0 277.1 L200.7 281.5 L201.4 268.6 L202.1 262.8 L202.8 236.2 L203.5 235.5 L204.2 224.3 L204.9 231.3 L205.6 196.9 L206.3 200.5 L207.0 186.9 L207.7 163.5 L208.4 212.5 L209.1 165.4 L209.8 138.0 L210.5 170.4 L211.2 130.5 L211.9 143.8 L212.6 144.3 L213.3 122.2 L214.0 120.0 L214.7 111.0 L215.4 113.5 L216.1 100.0 L216.8 99.1 L217.5 99.6 L218.2 98.0 L218.9 91.0 L219.6 90.8 L220.3 91.1 L221.0 91.8 L221.7 98.7 L222.4 95.1 L223.1 105.8 L223.8 111.0 L224.5 129.2 L225.2 142.8 L225.9 140.3 L226.6 148.3 L227.3 141.6 L228.0 163.4 L228.7 172.2 L229.4 178.9 L230.1 165.4 L230.8 208.7 L231.5 201.3 L232.2 186.6 L232.9 178.1 L233.6 191.0 L234.3 201.7 L235.0 203.2 L235.7 214.2 L236.4 222.7 L237.1 253.0 L237.8 242.6 L238.5 234.0 L239.2 248.9 L239.9 239.2 L240.6 244.4 L241.3 282.2 L242.0 253.2 L242.7 290.1 L243.4 261.8 L244.1 273.2 L244.8 287.4 L245.5 275.5 L246.2 282.9 L246.9 276.8 L247.6 276.2 L248.3 282.8 L249.0 278.8 L249.7 311.5 L250.4 289.9 L251.1 316.7 L251.8 259.9 L252.5 297.0 L253.2 305.6 L253.9 295.7 L254.6 315.3 L255.3 310.7 L256.0 261.0 L256.7 261.0 L257.4 343.2 L258.1 311.1 L258.8 313.1 L259.5 304.9 L260.2 313.7 L260.9 296.4 L261.6 311.6 L262.3 346.8 L263.0 329.7 L263.7 325.0 L264.4 331.9 L265.1 342.8 L265.8 275.0 L266.5 275.0 L267.2 334.9 L267.9 324.1 L268.6 344.9 L269.3 293.4 L270.0 317.3 L270.7 328.9 L271.4 314.9 L272.1 325.6 L272.8 320.5 L273.5 321.4 L274.2 365.4 L274.9 339.9 L275.6 332.3 L276.3 350.8 L277.0 332.1 L277.7 347.4 L278.4 341.7 L279.1 358.9 L279.8 321.5 L280.5 350.1 L281.2 342.6 L281.9 326.8 L282.6 354.9 L283.3 330.8 L284.0 362.3 L284.7 348.6 L285.4 351.1 L286.1 343.6 L286.8 354.2 L287.5 319.5 L288.2 344.1 L288.9 335.5 L289.6 347.2 L290.3 343.2 L291.0 351.9 L291.7 334.3 L292.4 368.5 L293.1 375.2 L293.8 344.2 L294.5 347.3 L295.2 351.8 L295.9 365.3 L296.6 376.0 L297.3 341.1 L298.0 352.3 L298.7 340.2 L299.4 353.5 L300.1 349.7 L300.8 376.1 L301.5 359.6 L302.2 393.9 L302.9 388.4 L303.6 366.0 L304.3 366.7 L305.0 372.4 L305.7 397.2 L306.4 370.8 L307.1 363.6 L307.8 381.6 L308.5 387.3 L309.2 375.5 L309.9 403.5 L310.6 387.6 L311.3 391.3 L312.0 377.1 L312.7 388.5 L313.4 388.8 L314.1 365.3 L314.8 397.4 L315.5 374.4 L316.2 396.9 L316.9 381.6 L317.6 424.3 L318.3 406.1 L319.0 414.0 L319.7 416.3 L320.4 391.8 L321.1 382.3 L321.8 406.6 L322.5 422.5 L323.2 414.8 L323.9 424.4 L324.6 427.8 L325.3 401.5 L326.0 423.6 L326.7 444.4 L327.4 417.1 L328.1 402.1 L328.8 424.2 L329.5 423.2 L330.2 434.9 L330.9 421.7 L331.6 434.5 L332.3 410.3 L333.0 446.5 L333.7 456.4 L334.4 454.9 L335.1 425.3 L335.8 447.4 L336.5 412.6 L337.2 450.4 L337.9 448.3 L338.6 440.2 L339.3 458.0 L340.0 459.3 L340.7 471.6 L341.4 466.5 L342.1 471.3 L342.8 451.6 L343.5 463.2 L344.2 473.2 L344.9 483.9 L345.6 483.2 L346.3 501.4 L347.0 479.3 L347.7 488.4 L348.4 496.0 L349.1 493.6 L349.8 503.8 L350.5 495.9 L351.2 518.9 L351.9 504.2 L352.6 521.4 L353.3 512.8 L354.0 530.3 L354.7 503.1 L355.4 523.0 L356.1 514.5 L356.8 522.0 L357.5 532.4 L358.2 510.4 L358.9 509.6 L359.6 513.7 L360.3 526.8 L361.0 506.8 L361.7 526.9 L362.4 514.3 L363.1 516.5 L363.8 522.0 L364.5 532.9 L365.2 524.0 L365.9 526.2 L366.6 531.5 L367.3 530.3 L368.0 508.3 L368.7 530.9 L369.4 536.8 L370.1 547.5 L370.8 557.5 L371.5 545.4 L372.2 540.8 L372.9 532.1 L373.6 543.5 L374.3 552.1 L375.0 559.0 L375.7 541.5 L376.4 554.2 L377.1 568.0 L377.8 573.9 L378.5 561.7 L379.2 556.9 L379.9 558.0 L380.6 563.4 L381.3 563.1 L382.0 578.4 L382.7 582.6 L383.4 581.6 L384.1 587.8 L384.8 575.6 L385.5 584.9 L386.2 577.8 L386.9 586.2 L387.6 598.4 L388.3 589.8 L389.0 576.2 L389.7 591.6 L390.4 589.5 L391.1 584.7 L391.8 592.4 L392.5 608.7 L393.2 616.3 L393.9 600.2 L394.6 614.2 L395.3 617.3 L396.0 600.1 L396.7 610.8 L397.4 612.0 L398.1 614.6 L398.8 601.3 L399.5 612.0 L400.2 624.0 L400.9 626.3 L401.6 631.6 L402.3 615.2 L403.0 633.4 L403.7 624.7 L404.4 609.6 L405.1 627.0 L405.8 619.0 L406.5 626.5 L407.2 622.3 L407.9 633.2 L408.6 626.5 L409.3 622.9 L410.0 633.2 L410.7 628.4 L411.4 623.9 L412.1 637.6 L412.8 625.3 L413.5 624.2 L414.2 625.7 L414.9 619.3 L415.6 626.9 L416.3 645.9 L417.0 625.6 L417.7 633.2 L418.4 625.5 L419.1 630.0 L419.8 646.7 L420.5 642.7 L421.2 632.1 L421.9 637.4 L422.6 631.9 L423.3 632.9 L424.0 632.6 L424.7 633.5 L425.4 643.2 L426.1 645.8 L426.8 645.7 L427.5 641.5 L428.2 633.4 L428.9 643.5 L429.6 637.9 L430.3 651.6 L431.0 649.9 L431.7 651.9 L432.4 644.6 L433.1 634.7 L433.8 655.3 L434.5 657.8 L435.2 639.0 L435.9 651.2 L436.6 659.3 L437.3 643.7 L438.0 664.4 L438.7 649.9 L439.4 645.3 L440.1 663.2 L440.8 656.1 L441.5 650.0 L442.2 661.3 L442.9 641.9 L443.6 668.9 L444.3 650.9 L445.0 659.0 L445.7 654.6 L446.4 660.8 L447.1 664.4 L447.8 652.8 L448.5 668.8 L449.2 657.3 L449.9 654.9 L450.6 658.5 L451.3 653.5 L452.0 655.4 L452.7 667.7 L453.4 660.6 L454.1 669.8 L454.8 665.3 L455.5 655.7 L456.2 650.2 L456.9 658.8 L457.6 665.7 L458.3 664.3 L459.0 659.0 L459.7 671.9 L460.4 653.6 L461.1 657.3 L461.8 667.0 L462.5 681.3 L463.2 671.9 L463.9 655.1 L464.6 671.6 L465.3 672.6 L466.0 674.7 L466.7 666.1 L467.4 663.8 L468.1 670.4 L468.8 672.8 L469.5 681.2 L470.2 684.9 L470.9 662.8 L471.6 668.6 L472.3 672.1 L473.0 671.4 L473.7 676.7 L474.4 677.2 L475.1 676.2 L475.8 683.8 L476.5 674.5 L477.2 669.2 L477.9 666.4 L478.6 670.4 L479.3 670.8 L480.0 665.9 L480.7 682.7 L481.4 680.1 L482.1 676.6 L482.8 674.1 L483.5 670.1 L484.2 674.8 L484.9 692.8 L485.6 667.5 L486.3 682.9 L487.0 687.1 L487.7 683.7 L488.4 681.3 L489.1 688.6 L489.8 677.3 L490.5 688.1 L491.2 694.0 L491.9 679.0 L492.6 680.8 L493.3 687.1 L494.0 692.8 L494.7 695.3 L495.4 691.6 L496.1 683.6 L496.8 681.3 L497.5 690.0 L498.2 691.3 L498.9 682.5 L499.6 690.0 L500.3 692.0 L501.0 696.7 L501.7 684.7 L502.4 694.5 L503.1 684.4 L503.8 689.3 L504.5 691.7 L505.2 701.7 L505.9 712.9 L506.6 694.8 L507.3 696.6 L508.0 700.0 L508.7 686.2 L509.4 699.3 L510.1 687.7 L510.8 705.1 L511.5 704.3 L512.2 699.1 L512.9 691.7 L513.6 706.7 L514.3 698.7 L515.0 698.1 L515.7 701.3 L516.4 688.2 L517.1 701.1 L517.8 704.8 L518.5 701.4 L519.2 700.6 L519.9 694.7 L520.6 704.3 L521.3 702.1 L522.0 701.4 L522.7 698.5 L523.4 707.1 L524.1 709.7 L524.8 705.2 L525.5 708.5 L526.2 711.3 L526.9 713.2 L527.6 705.8 L528.3 703.7 L529.0 703.0 L529.7 705.8 L530.4 711.7 L531.1 711.8 L531.8 704.5 L532.5 708.1 L533.2 702.0 L533.9 720.5 L534.6 706.0 L535.3 710.5 L536.0 704.8 L536.7 707.4 L537.4 702.6 L538.1 719.1 L538.8 712.0 L539.5 709.4 L540.2 705.4 L540.9 707.6 L541.6 714.4 L542.3 720.8 L543.0 704.3 L543.7 703.4 L544.4 711.8 L545.1 709.7 L545.8 704.5 L546.5 714.0 L547.2 718.3 L547.9 706.1 L548.6 716.1 L549.3 724.6 L550.0 720.9 L550.7 713.8 L551.4 728.6 L552.1 719.7 L552.8 712.9 L553.5 722.7 L554.2 712.0 L554.9 722.9 L555.6 712.0 L556.3 726.3 L557.0 716.2 L557.7 725.3 L558.4 723.5 L559.1 722.3 L559.8 720.5 L560.5 726.0 L561.2 711.4 L561.9 723.1 L562.6 723.3 L563.3 724.3 L564.0 725.9 L564.7 740.8 L565.4 723.2 L566.1 726.4 L566.8 723.3 L567.5 730.7 L568.2 712.6 L568.9 731.7 L569.6 719.8 L570.3 712.0 L571.0 718.2 L571.7 723.0 L572.4 725.0 L573.1 723.8 L573.8 728.5 L574.5 724.4 L575.2 724.5 L575.9 714.3 L576.6 727.6 L577.3 730.4 L578.0 723.5 L578.7 716.4 L579.4 719.3 L580.1 734.5 L580.8 723.3 L581.5 723.2 L582.2 722.7 L582.9 730.3 L583.6 724.2 L584.3 723.0 L585.0 720.1 L585.7 727.2 L586.4 732.9 L587.1 727.5 L587.8 732.7 L588.5 729.5 L589.2 729.6 L589.9 730.0 L590.6 729.5 L591.3 734.5 L592.0 732.2 L592.7 727.2 L593.4 730.9 L594.1 730.1 L594.8 733.0 L595.5 731.8 L596.2 733.2 L596.9 724.3 L597.6 733.4 L598.3 738.1 L599.0 725.7 L599.7 739.9 L600.4 734.0 L601.1 731.8 L601.8 724.5 L602.5 738.4 L603.2 728.9 L603.9 731.3 L604.6 736.5 L605.3 729.4 L606.0 729.8 L606.7 729.3 L607.4 734.3 L608.1 737.8 L608.8 737.2 L609.5 737.4 L610.2 734.1 L610.9 736.5 L611.6 732.8 L612.3 752.6 L613.0 737.1 L613.7 727.3 L614.4 731.5 L615.1 743.8 L615.8 730.3 L616.5 734.7 L617.2 738.6 L617.9 731.9 L618.6 741.9 L619.3 744.8 L620.0 733.5 L620.7 742.5 L621.4 733.4 L622.1 733.0 L622.8 738.8 L623.5 738.8 L624.2 735.2 L624.9 741.8 L625.6 731.4 L626.3 734.3 L627.0 733.4 L627.7 741.8 L628.4 742.1 L629.1 741.6 L629.8 732.9 L630.5 739.4 L631.2 741.0 L631.9 731.8 L632.6 735.4 L633.3 742.1 L634.0 742.5 L634.7 740.6 L635.4 742.0 L636.1 741.2 L636.8 740.5 L637.5 739.5 L638.2 736.3 L638.9 739.2 L639.6 738.6 L640.3 750.8 L641.0 741.9 L641.7 740.8 L642.4 740.0 L643.1 740.6 L643.8 740.1 L644.5 743.8 L645.2 741.4 L645.9 745.2 L646.6 738.8 L647.3 743.5 L648.0 745.9 L648.7 737.2 L649.4 743.1 L650.1 743.6 L650.8 741.2 L651.5 740.7 L652.2 734.9 L652.9 748.1 L653.6 739.2 L654.3 738.0 L655.0 746.3 L655.7 735.7 L656.4 747.9 L657.1 745.8 L657.8 746.6 L658.5 743.5 L659.2 739.1 L659.9 736.4 L660.6 750.8 L661.3 742.7 L662.0 742.6 L662.7 757.1 L663.4 742.4 L664.1 743.3 L664.8 744.3 L665.5 744.8 L666.2 741.1 L666.9 743.2 L667.6 755.5 L668.3 749.0 L669.0 733.4 L669.7 731.2 L670.4 747.6 L671.1 745.8 L671.8 744.8 L672.5 750.9 L673.2 739.1 L673.9 751.7 L674.6 747.4 L675.3 749.2 L676.0 748.1 L676.7 750.7 L677.4 746.2 L678.1 745.1 L678.8 750.8 L679.5 748.3 L680.2 742.5 L680.9 753.4 L681.6 753.0 L682.3 754.0 L683.0 748.5 L683.7 749.7 L684.4 746.8 L685.1 744.5 L685.8 748.9 L686.5 749.5 L687.2 746.1 L687.9 756.4 L688.6 742.5 L689.3 743.2 L690.0 746.6 L690.7 754.7 L691.4 748.5 L692.1 748.3 L692.8 746.2 L693.5 746.8 L694.2 744.7 L694.9 754.2 L695.6 752.7 L696.3 754.3 L697.0 747.8 L697.7 760.6 L698.4 746.7 L699.1 742.5 L699.8 749.7 L700.5 751.5 L701.2 754.1 L701.9 747.1 L702.6 753.7 L703.3 763.7 L704.0 748.2 L704.7 748.7 L705.4 745.0 L706.1 752.8 L706.8 755.4 L707.5 755.1 L708.2 755.5 L708.9 757.9 L709.6 752.9 L710.3 756.3 L711.0 748.9 L711.7 749.6 L712.4 753.8 L713.1 749.7 L713.8 755.3 L714.5 758.5 L715.2 754.8 L715.9 750.5 L716.6 750.5 L717.3 758.8 L718.0 750.5 L718.7 754.1 L719.4 752.8 L720.1 754.3 L720.8 758.3 L721.5 752.0 L722.2 744.4 L722.9 759.9 L723.6 755.3 L724.3 757.3 L725.0 754.5 L725.7 757.7 L726.4 759.6 L727.1 760.1 L727.8 753.9 L728.5 753.7 L729.2 756.7 L729.9 756.1 L730.6 757.5 L731.3 752.8 L732.0 746.8 L732.7 757.4 L733.4 758.7 L734.1 758.3 L734.8 762.2 L735.5 759.2 L736.2 754.6 L736.9 759.8 L737.6 755.8 L738.3 760.9 L739.0 757.1 L739.7 757.9 L740.4 757.1 L741.1 756.4 L741.8 750.6 L742.5 756.5 L743.2 747.8 L743.9 758.2 L744.6 760.1 L745.3 770.3 L746.0 757.8 L746.7 753.8 L747.4 745.8 L748.1 763.8 L748.8 751.2 L749.5 759.9 L750.2 748.0 L750.9 756.4 L751.6 759.2 L752.3 757.9 L753.0 756.6 L753.7 753.7 L754.4 753.4 L755.1 760.6 L755.8 758.5 L756.5 756.3 L757.2 757.7 L757.9 753.5 L758.6 760.8 L759.3 761.7 L760.0 751.8 L760.7 757.4 L761.4 761.0 L762.1 754.8 L762.8 764.8 L763.5 762.9 L764.2 756.3 L764.9 761.0 L765.6 763.6 L766.3 752.9 L767.0 759.9 L767.7 757.1 L768.4 756.2 L769.1 760.4 L769.8 756.0 L770.5 752.7 L771.2 752.6 L771.9 757.9 L772.6 760.3 L773.3 758.0 L774.0 757.6 L774.7 758.1 L775.4 763.0 L776.1 760.2 L776.8 755.6 L777.5 757.3 L778.2 762.9 L778.9 756.4 L779.6 757.1 L780.3 758.5 L781.0 754.8 L781.7 762.0 L782.4 750.8 L783.1 764.1 L783.8 757.3 L784.5 754.4 L785.2 760.0 L785.9 752.8 L786.6 761.0 L787.3 761.9 L788.0 757.1 L788.7 757.8 L789.4 762.7 L790.1 756.8 L790.8 759.4 L791.5 760.6 L792.2 769.5 L792.9 757.6 L793.6 759.6 L794.3 763.6 L795.0 742.9 L795.7 758.6 L796.4 752.7 L797.1 753.0 L797.8 766.7 L798.5 760.4 L799.2 765.1 L799.9 758.9 L800.6 761.7 L801.3 758.3 L802.0 757.9 L802.7 759.6 L803.4 760.4 L804.1 765.5 L804.8 759.3 L805.5 761.4 L806.2 759.1 L806.9 760.6 L807.6 755.4 L808.3 764.0 L809.0 758.3 L809.7 760.3 L810.4 759.4 L811.1 763.7 L811.8 762.1 L812.5 760.3 L813.2 760.9 L813.9 761.6 L814.6 763.1 L815.3 762.2 L816.0 765.0 L816.7 766.2 L817.4 762.6 L818.1 755.8 L818.8 766.7 L819.5 768.2 L820.2 759.3 L820.9 759.1 L821.6 753.3 L822.3 763.4 L823.0 757.1 L823.7 767.2 L824.4 751.9 L825.1 761.0 L825.8 763.2 L826.5 759.4 L827.2 758.0 L827.9 761.7 L828.6 759.0 L829.3 759.7 L830.0 760.8 L830.7 759.0 L831.4 760.2 L832.1 763.8 L832.8 759.6 L833.5 761.6 L834.2 758.4 L834.9 764.3 L835.6 756.6 L836.3 764.5 L837.0 750.5 L837.7 758.0 L838.4 755.6 L839.1 764.8 L839.8 762.2 L840.5 756.7 L841.2 759.3 L841.9 766.1 L842.6 761.1 L843.3 763.3 L844.0 756.1 L844.7 756.1 L845.4 763.4 L846.1 769.5 L846.8 759.6 L847.5 763.6 L848.2 758.2 L848.9 765.9 L849.6 760.0 L850.3 760.0 L851.0 755.0 L851.7 760.2 L852.4 762.3 L853.1 766.5 L853.8 757.6 L854.5 765.1 L855.2 760.5 L855.9 760.8 L856.6 758.5 L857.3 755.9 L858.0 757.6 L858.7 767.5 L859.4 757.7 L860.1 760.4 L860.8 765.8 L861.5 754.6 L862.2 763.5 L862.9 760.2 L863.6 762.6 L864.3 765.0 L865.0 761.5 L865.7 761.4 L866.4 766.5 L867.1 764.3 L867.8 759.6 L868.5 761.5 L869.2 757.5 L869.9 766.7 L870.6 758.0 L871.3 762.9 L872.0 773.0 L872.7 765.1 L873.4 761.4 L874.1 759.9 L874.8 760.3 L875.5 765.6 L876.2 763.7 L876.9 762.5 L877.6 771.6 L878.3 759.7 L879.0 760.9 L879.7 761.4 L880.4 763.4 L881.1 763.8 L881.8 761.8 L882.5 765.3 L883.2 764.7 L883.9 761.8 L884.6 754.4 L885.3 765.6 L886.0 759.6 L886.7 758.7 L887.4 762.4 L888.1 758.7 L888.8 760.1 L889.5 763.1 L890.2 761.7 L890.9 764.0 L891.6 760.0 L892.3 762.2 L893.0 759.3 L893.7 762.0 L894.4 764.0 L895.1 762.2 L895.8 758.2 L896.5 762.5 L897.2 763.6 L897.9 767.0 L898.6 763.1 L899.3 761.8 L900.0 759.3 L900.7 770.1 L901.4 760.1 L902.1 759.5 L902.8 762.8 L903.5 757.2 L904.2 767.1 L904.9 764.1 L905.6 765.1 L906.3 757.3 L907.0 761.8 L907.7 766.5 L908.4 766.7 L909.1 773.3 L909.8 767.4 L910.5 757.3 L911.2 764.0 L911.9 762.5 L912.6 767.5 L913.3 763.6 L914.0 765.6 L914.7 762.9 L915.4 766.0 L916.1 769.0 L916.8 762.0 L917.5 757.2 L918.2 760.7 L918.9 773.5 L919.6 765.0 L920.3 763.3 L921.0 761.1 L921.7 767.9 L922.4 765.4 L923.1 764.1 L923.8 762.7 L924.5 764.0 L925.2 763.5 L925.9 766.5 L926.6 768.9 L927.3 758.2 L928.0 759.9 L928.7 764.5 L929.4 765.1 L930.1 759.7 L930.8 762.8 L931.5 763.6 L932.2 763.5 L932.9 763.5 L933.6 764.8 L934.3 768.0 L935.0 767.6 L935.7 767.2 L936.4 766.1 L937.1 762.9 L937.8 763.7 L938.5 767.6 L939.2 765.8 L939.9 768.1 L940.6 766.3 L941.3 765.7 L942.0 767.0 L942.7 760.5 L943.4 765.1 L944.1 763.7 L944.8 768.5 L945.5 763.5 L946.2 766.6 L946.9 764.4 L947.6 767.4 L948.3 768.3 L949.0 765.3 L949.7 766.3 L950.4 766.9 L951.1 768.6 L951.8 765.0 L952.5 766.3 L953.2 764.8 L953.9 763.1 L954.6 766.8 L955.3 767.7 L956.0 763.7 L956.7 771.5 L957.4 763.9 L958.1 768.8 L958.8 767.7 L959.5 761.0 L960.2 766.4 L960.9 761.5 L961.6 766.3 L962.3 768.8 L963.0 772.7 L963.7 769.3 L964.4 761.8 L965.1 765.7 L965.8 771.7 L966.5 767.5 L967.2 772.6 L967.9 764.6 L968.6 765.2 L969.3 762.7 L970.0 765.9 L970.7 771.2 L971.4 764.2 L972.1 769.9 L972.8 768.7 L973.5 769.8 L974.2 766.5 L974.9 767.4 L975.6 774.2 L976.3 763.5 L977.0 771.7 L977.7 772.4 L978.4 770.0 L979.1 772.9 L979.8 758.2 L980.5 766.7 L981.4 764.0" fill="none" stroke="#f4b034" stroke-width="5.4" stroke-linejoin="round" stroke-linecap="round"/>
<path d="M93.6 630.5 L94.3 634.2 L95.0 623.2 L95.7 636.4 L96.4 628.4 L97.1 619.9 L97.8 627.4 L98.5 637.2 L99.2 635.5 L99.9 624.6 L100.6 638.1 L101.3 632.9 L102.0 637.0 L102.7 636.4 L103.4 625.4 L104.1 636.9 L104.8 629.9 L105.5 646.3 L106.2 640.2 L106.9 635.3 L107.6 627.8 L108.3 635.7 L109.0 636.8 L109.7 627.0 L110.4 653.2 L111.1 640.0 L111.8 660.3 L112.5 629.8 L113.2 650.8 L113.9 629.1 L114.6 634.9 L115.3 644.2 L116.0 641.1 L116.7 623.9 L117.4 633.5 L118.1 647.7 L118.8 656.5 L119.5 647.3 L120.2 638.0 L120.9 645.4 L121.6 630.4 L122.3 642.1 L123.0 619.7 L123.7 637.0 L124.4 634.9 L125.1 640.3 L125.8 630.2 L126.5 639.9 L127.2 627.5 L127.9 633.7 L128.6 631.6 L129.3 609.5 L130.0 622.3 L130.7 620.5 L131.4 607.5 L132.1 618.2 L132.8 603.8 L133.5 619.1 L134.2 618.3 L134.9 616.3 L135.6 633.3 L136.3 616.0 L137.0 613.3 L137.7 606.6 L138.4 614.4 L139.1 604.0 L139.8 621.5 L140.5 605.6 L141.2 611.4 L141.9 625.4 L142.6 618.0 L143.3 609.8 L144.0 618.3 L144.7 605.8 L145.4 612.0 L146.1 604.9 L146.8 596.5 L147.5 606.7 L148.2 610.1 L148.9 598.8 L149.6 591.8 L150.3 595.6 L151.0 579.2 L151.7 592.7 L152.4 587.6 L153.1 612.3 L153.8 589.4 L154.5 580.0 L155.2 599.1 L155.9 589.1 L156.6 589.8 L157.3 589.8 L158.0 588.7 L158.7 582.1 L159.4 591.9 L160.1 586.5 L160.8 576.1 L161.5 577.2 L162.2 568.8 L162.9 577.8 L163.6 580.2 L164.3 577.6 L165.0 575.3 L165.7 566.8 L166.4 580.1 L167.1 562.0 L167.8 562.2 L168.5 554.4 L169.2 558.7 L169.9 553.8 L170.6 572.7 L171.3 555.9 L172.0 534.4 L172.7 543.9 L173.4 532.5 L174.1 551.7 L174.8 554.1 L175.5 534.5 L176.2 542.3 L176.9 532.2 L177.6 535.8 L178.3 546.3 L179.0 523.9 L179.7 512.9 L180.4 528.6 L181.1 522.0 L181.8 518.9 L182.5 519.3 L183.2 500.1 L183.9 485.3 L184.6 513.9 L185.3 497.4 L186.0 487.5 L186.7 485.8 L187.4 506.6 L188.1 493.9 L188.8 492.1 L189.5 494.1 L190.2 472.9 L190.9 459.9 L191.6 454.8 L192.3 449.1 L193.0 455.8 L193.7 444.9 L194.4 450.1 L195.1 439.5 L195.8 438.3 L196.5 442.3 L197.2 445.9 L197.9 442.8 L198.6 421.6 L199.3 414.3 L200.0 397.9 L200.7 407.7 L201.4 406.0 L202.1 371.4 L202.8 384.5 L203.5 351.9 L204.2 342.2 L204.9 335.8 L205.6 319.1 L206.3 327.5 L207.0 288.7 L207.7 290.7 L208.4 288.2 L209.1 263.5 L209.8 267.9 L210.5 232.9 L211.2 245.2 L211.9 222.1 L212.6 231.7 L213.3 232.8 L214.0 242.4 L214.7 225.3 L215.4 222.3 L216.1 205.6 L216.8 210.4 L217.5 193.8 L218.2 189.3 L218.9 181.6 L219.6 181.0 L220.3 180.6 L221.0 178.6 L221.7 182.8 L222.4 187.0 L223.1 191.9 L223.8 190.5 L224.5 191.2 L225.2 220.4 L225.9 190.1 L226.6 204.5 L227.3 223.3 L228.0 236.5 L228.7 228.3 L229.4 238.0 L230.1 253.8 L230.8 258.2 L231.5 278.7 L232.2 264.7 L232.9 262.2 L233.6 273.3 L234.3 285.1 L235.0 304.6 L235.7 314.9 L236.4 295.5 L237.1 289.2 L237.8 297.5 L238.5 349.0 L239.2 322.0 L239.9 338.3 L240.6 362.0 L241.3 334.5 L242.0 346.0 L242.7 345.9 L243.4 342.8 L244.1 368.1 L244.8 372.7 L245.5 337.8 L246.2 374.4 L246.9 360.8 L247.6 367.3 L248.3 368.9 L249.0 351.9 L249.7 365.4 L250.4 358.2 L251.1 393.9 L251.8 396.8 L252.5 370.7 L253.2 354.8 L253.9 382.8 L254.6 365.9 L255.3 389.1 L256.0 391.3 L256.7 387.2 L257.4 361.4 L258.1 353.6 L258.8 357.2 L259.5 363.6 L260.2 353.2 L260.9 338.0 L261.6 338.0 L262.3 367.1 L263.0 364.1 L263.7 378.4 L264.4 388.8 L265.1 350.2 L265.8 377.9 L266.5 373.0 L267.2 369.2 L267.9 375.6 L268.6 382.8 L269.3 405.2 L270.0 384.9 L270.7 380.4 L271.4 371.8 L272.1 396.3 L272.8 378.6 L273.5 386.8 L274.2 397.2 L274.9 390.4 L275.6 436.0 L276.3 436.0 L277.0 401.6 L277.7 391.3 L278.4 395.0 L279.1 401.7 L279.8 389.2 L280.5 397.7 L281.2 391.3 L281.9 419.7 L282.6 402.4 L283.3 377.1 L284.0 396.0 L284.7 412.5 L285.4 397.8 L286.1 396.0 L286.8 412.8 L287.5 388.6 L288.2 402.1 L288.9 408.4 L289.6 411.6 L290.3 389.6 L291.0 387.2 L291.7 419.5 L292.4 392.9 L293.1 401.1 L293.8 430.8 L294.5 396.9 L295.2 376.7 L295.9 435.3 L296.6 414.6 L297.3 407.0 L298.0 435.7 L298.7 403.6 L299.4 423.5 L300.1 409.4 L300.8 408.7 L301.5 421.7 L302.2 427.2 L302.9 434.3 L303.6 435.8 L304.3 419.1 L305.0 426.4 L305.7 451.5 L306.4 438.0 L307.1 433.1 L307.8 447.9 L308.5 449.1 L309.2 460.1 L309.9 428.5 L310.6 431.0 L311.3 444.4 L312.0 450.0 L312.7 423.9 L313.4 433.0 L314.1 436.7 L314.8 451.8 L315.5 420.3 L316.2 473.4 L316.9 445.7 L317.6 453.0 L318.3 472.1 L319.0 455.8 L319.7 458.6 L320.4 449.8 L321.1 458.3 L321.8 443.0 L322.5 455.1 L323.2 457.7 L323.9 448.0 L324.6 471.1 L325.3 466.6 L326.0 443.1 L326.7 473.2 L327.4 456.2 L328.1 473.9 L328.8 460.6 L329.5 466.8 L330.2 476.6 L330.9 494.2 L331.6 459.1 L332.3 473.0 L333.0 474.9 L333.7 492.6 L334.4 481.7 L335.1 491.7 L335.8 504.2 L336.5 501.4 L337.2 492.3 L337.9 495.1 L338.6 528.0 L339.3 528.0 L340.0 498.7 L340.7 509.3 L341.4 518.1 L342.1 510.2 L342.8 512.4 L343.5 521.7 L344.2 528.0 L344.9 508.3 L345.6 513.0 L346.3 536.4 L347.0 524.9 L347.7 515.6 L348.4 528.7 L349.1 544.0 L349.8 524.0 L350.5 522.0 L351.2 530.1 L351.9 549.2 L352.6 529.1 L353.3 541.9 L354.0 547.9 L354.7 545.7 L355.4 538.0 L356.1 548.8 L356.8 545.8 L357.5 553.2 L358.2 550.8 L358.9 549.9 L359.6 534.0 L360.3 557.5 L361.0 552.1 L361.7 536.0 L362.4 556.6 L363.1 561.7 L363.8 560.0 L364.5 541.1 L365.2 558.6 L365.9 558.5 L366.6 566.3 L367.3 550.8 L368.0 575.6 L368.7 579.8 L369.4 582.2 L370.1 578.8 L370.8 580.6 L371.5 592.2 L372.2 589.5 L372.9 584.2 L373.6 592.4 L374.3 597.8 L375.0 604.1 L375.7 599.9 L376.4 591.0 L377.1 594.6 L377.8 601.5 L378.5 603.2 L379.2 610.0 L379.9 587.3 L380.6 597.9 L381.3 595.4 L382.0 614.5 L382.7 613.0 L383.4 610.5 L384.1 615.3 L384.8 605.2 L385.5 615.0 L386.2 612.2 L386.9 613.4 L387.6 612.6 L388.3 622.1 L389.0 623.8 L389.7 605.1 L390.4 613.2 L391.1 619.1 L391.8 624.5 L392.5 609.2 L393.2 616.2 L393.9 622.7 L394.6 640.1 L395.3 616.6 L396.0 626.8 L396.7 630.1 L397.4 629.9 L398.1 632.1 L398.8 631.0 L399.5 630.1 L400.2 634.0 L400.9 634.2 L401.6 635.3 L402.3 635.7 L403.0 624.3 L403.7 634.6 L404.4 634.7 L405.1 639.8 L405.8 639.7 L406.5 646.9 L407.2 630.4 L407.9 636.3 L408.6 641.1 L409.3 634.5 L410.0 638.0 L410.7 638.3 L411.4 638.4 L412.1 659.3 L412.8 643.2 L413.5 655.3 L414.2 639.4 L414.9 648.5 L415.6 642.9 L416.3 650.8 L417.0 661.2 L417.7 664.0 L418.4 656.6 L419.1 654.7 L419.8 652.0 L420.5 655.2 L421.2 662.6 L421.9 642.1 L422.6 651.8 L423.3 647.7 L424.0 662.0 L424.7 646.9 L425.4 661.8 L426.1 648.5 L426.8 649.5 L427.5 667.8 L428.2 665.0 L428.9 652.3 L429.6 647.0 L430.3 653.0 L431.0 664.0 L431.7 660.2 L432.4 654.5 L433.1 665.1 L433.8 671.2 L434.5 654.8 L435.2 662.3 L435.9 657.8 L436.6 670.8 L437.3 664.3 L438.0 659.4 L438.7 652.8 L439.4 668.8 L440.1 662.3 L440.8 665.3 L441.5 663.3 L442.2 667.5 L442.9 653.3 L443.6 659.6 L444.3 669.4 L445.0 677.5 L445.7 667.7 L446.4 665.2 L447.1 661.6 L447.8 661.6 L448.5 664.8 L449.2 661.1 L449.9 667.4 L450.6 666.9 L451.3 691.1 L452.0 666.9 L452.7 675.3 L453.4 665.6 L454.1 675.1 L454.8 685.4 L455.5 665.9 L456.2 662.5 L456.9 677.6 L457.6 671.9 L458.3 669.7 L459.0 674.8 L459.7 674.2 L460.4 680.8 L461.1 675.9 L461.8 669.9 L462.5 666.8 L463.2 663.3 L463.9 667.9 L464.6 682.4 L465.3 666.4 L466.0 676.5 L466.7 684.5 L467.4 680.8 L468.1 687.3 L468.8 682.7 L469.5 688.4 L470.2 675.2 L470.9 674.1 L471.6 692.2 L472.3 682.4 L473.0 681.3 L473.7 677.6 L474.4 691.7 L475.1 685.1 L475.8 685.7 L476.5 679.0 L477.2 684.0 L477.9 681.3 L478.6 683.4 L479.3 686.8 L480.0 682.1 L480.7 680.5 L481.4 691.1 L482.1 680.4 L482.8 695.7 L483.5 697.0 L484.2 679.6 L484.9 698.4 L485.6 684.0 L486.3 697.5 L487.0 686.5 L487.7 695.0 L488.4 684.6 L489.1 695.2 L489.8 692.3 L490.5 701.8 L491.2 697.3 L491.9 687.9 L492.6 695.6 L493.3 690.2 L494.0 695.8 L494.7 704.3 L495.4 704.9 L496.1 697.0 L496.8 691.5 L497.5 697.0 L498.2 709.0 L498.9 696.3 L499.6 688.8 L500.3 689.4 L501.0 690.8 L501.7 704.3 L502.4 696.3 L503.1 694.2 L503.8 700.8 L504.5 704.6 L505.2 698.4 L505.9 694.8 L506.6 700.9 L507.3 704.7 L508.0 690.6 L508.7 692.3 L509.4 712.1 L510.1 703.4 L510.8 703.2 L511.5 693.5 L512.2 696.1 L512.9 700.6 L513.6 709.6 L514.3 703.3 L515.0 693.8 L515.7 712.1 L516.4 712.7 L517.1 709.0 L517.8 698.1 L518.5 701.0 L519.2 703.5 L519.9 706.0 L520.6 715.7 L521.3 698.4 L522.0 702.3 L522.7 706.5 L523.4 703.7 L524.1 704.4 L524.8 699.3 L525.5 708.1 L526.2 706.4 L526.9 709.5 L527.6 714.0 L528.3 707.8 L529.0 709.0 L529.7 711.5 L530.4 707.9 L531.1 711.8 L531.8 701.7 L532.5 706.8 L533.2 714.6 L533.9 713.3 L534.6 717.0 L535.3 705.8 L536.0 710.5 L536.7 713.3 L537.4 713.6 L538.1 713.3 L538.8 722.4 L539.5 712.8 L540.2 713.9 L540.9 718.6 L541.6 718.8 L542.3 717.3 L543.0 725.7 L543.7 720.3 L544.4 716.4 L545.1 713.0 L545.8 724.7 L546.5 715.5 L547.2 721.0 L547.9 716.6 L548.6 730.5 L549.3 723.8 L550.0 711.4 L550.7 722.2 L551.4 714.0 L552.1 718.5 L552.8 725.8 L553.5 715.5 L554.2 724.1 L554.9 722.4 L555.6 726.8 L556.3 718.5 L557.0 726.6 L557.7 721.9 L558.4 728.9 L559.1 724.1 L559.8 727.3 L560.5 730.8 L561.2 729.7 L561.9 724.2 L562.6 728.0 L563.3 724.6 L564.0 726.8 L564.7 732.9 L565.4 720.8 L566.1 719.3 L566.8 727.7 L567.5 722.7 L568.2 731.7 L568.9 730.1 L569.6 729.1 L570.3 726.1 L571.0 724.1 L571.7 722.2 L572.4 724.0 L573.1 726.7 L573.8 722.4 L574.5 732.2 L575.2 730.5 L575.9 721.2 L576.6 714.7 L577.3 733.3 L578.0 722.2 L578.7 714.3 L579.4 720.5 L580.1 729.7 L580.8 735.4 L581.5 733.5 L582.2 736.3 L582.9 738.0 L583.6 738.6 L584.3 725.2 L585.0 729.1 L585.7 724.9 L586.4 730.7 L587.1 729.1 L587.8 732.2 L588.5 739.9 L589.2 728.1 L589.9 735.2 L590.6 727.4 L591.3 726.1 L592.0 737.2 L592.7 732.0 L593.4 733.3 L594.1 739.9 L594.8 727.2 L595.5 734.0 L596.2 746.2 L596.9 729.4 L597.6 735.6 L598.3 738.9 L599.0 739.2 L599.7 738.2 L600.4 739.9 L601.1 737.8 L601.8 739.5 L602.5 737.9 L603.2 732.2 L603.9 737.1 L604.6 736.3 L605.3 742.2 L606.0 739.6 L606.7 739.9 L607.4 738.7 L608.1 741.0 L608.8 735.9 L609.5 739.8 L610.2 735.7 L610.9 737.3 L611.6 734.0 L612.3 749.0 L613.0 741.9 L613.7 731.8 L614.4 737.8 L615.1 741.0 L615.8 737.7 L616.5 743.0 L617.2 741.8 L617.9 745.0 L618.6 727.6 L619.3 743.5 L620.0 741.3 L620.7 744.8 L621.4 738.0 L622.1 737.4 L622.8 735.7 L623.5 742.9 L624.2 741.6 L624.9 733.6 L625.6 738.7 L626.3 741.1 L627.0 736.1 L627.7 739.8 L628.4 741.1 L629.1 739.2 L629.8 734.7 L630.5 750.8 L631.2 743.0 L631.9 743.6 L632.6 739.7 L633.3 743.0 L634.0 739.5 L634.7 742.0 L635.4 743.2 L636.1 745.3 L636.8 740.4 L637.5 739.7 L638.2 748.5 L638.9 737.4 L639.6 744.3 L640.3 743.1 L641.0 746.7 L641.7 742.0 L642.4 739.6 L643.1 744.7 L643.8 738.6 L644.5 736.4 L645.2 744.5 L645.9 745.2 L646.6 738.7 L647.3 750.3 L648.0 744.9 L648.7 750.4 L649.4 750.0 L650.1 745.8 L650.8 744.0 L651.5 739.9 L652.2 750.1 L652.9 752.5 L653.6 746.9 L654.3 746.6 L655.0 742.8 L655.7 742.5 L656.4 746.4 L657.1 752.0 L657.8 746.0 L658.5 750.8 L659.2 749.0 L659.9 747.1 L660.6 744.2 L661.3 746.2 L662.0 742.9 L662.7 751.4 L663.4 750.1 L664.1 744.2 L664.8 745.5 L665.5 743.0 L666.2 749.6 L666.9 751.0 L667.6 745.0 L668.3 747.0 L669.0 750.4 L669.7 742.3 L670.4 750.0 L671.1 755.5 L671.8 755.8 L672.5 748.8 L673.2 749.3 L673.9 752.6 L674.6 754.6 L675.3 755.7 L676.0 750.9 L676.7 751.4 L677.4 751.5 L678.1 757.0 L678.8 746.7 L679.5 755.6 L680.2 751.7 L680.9 752.0 L681.6 745.4 L682.3 750.9 L683.0 747.7 L683.7 741.1 L684.4 752.3 L685.1 746.2 L685.8 751.8 L686.5 746.6 L687.2 750.4 L687.9 750.4 L688.6 745.3 L689.3 752.2 L690.0 749.9 L690.7 743.1 L691.4 759.5 L692.1 754.5 L692.8 754.1 L693.5 753.0 L694.2 756.2 L694.9 751.2 L695.6 756.0 L696.3 756.9 L697.0 751.5 L697.7 753.7 L698.4 754.2 L699.1 748.1 L699.8 755.2 L700.5 753.7 L701.2 758.7 L701.9 754.8 L702.6 750.9 L703.3 754.8 L704.0 752.5 L704.7 745.7 L705.4 753.8 L706.1 749.9 L706.8 759.6 L707.5 756.1 L708.2 758.3 L708.9 756.4 L709.6 754.5 L710.3 757.9 L711.0 749.7 L711.7 758.5 L712.4 755.1 L713.1 748.3 L713.8 755.2 L714.5 758.1 L715.2 754.2 L715.9 761.2 L716.6 761.0 L717.3 754.1 L718.0 753.6 L718.7 755.7 L719.4 754.9 L720.1 759.4 L720.8 760.9 L721.5 759.4 L722.2 759.6 L722.9 757.0 L723.6 756.8 L724.3 754.9 L725.0 766.0 L725.7 760.9 L726.4 759.9 L727.1 753.7 L727.8 752.4 L728.5 755.2 L729.2 756.5 L729.9 756.9 L730.6 760.6 L731.3 757.0 L732.0 760.8 L732.7 760.4 L733.4 761.2 L734.1 758.4 L734.8 761.7 L735.5 759.5 L736.2 759.7 L736.9 758.1 L737.6 758.6 L738.3 759.9 L739.0 761.5 L739.7 754.7 L740.4 758.0 L741.1 759.3 L741.8 763.1 L742.5 759.2 L743.2 761.5 L743.9 762.5 L744.6 759.4 L745.3 764.9 L746.0 755.8 L746.7 754.5 L747.4 755.3 L748.1 756.4 L748.8 757.3 L749.5 758.4 L750.2 761.9 L750.9 757.7 L751.6 757.5 L752.3 761.5 L753.0 758.8 L753.7 760.3 L754.4 758.0 L755.1 754.9 L755.8 759.3 L756.5 759.1 L757.2 760.9 L757.9 759.6 L758.6 756.7 L759.3 764.9 L760.0 755.2 L760.7 747.7 L761.4 757.4 L762.1 757.8 L762.8 761.5 L763.5 757.8 L764.2 759.9 L764.9 760.7 L765.6 762.4 L766.3 754.3 L767.0 760.9 L767.7 755.8 L768.4 764.1 L769.1 757.5 L769.8 757.8 L770.5 762.1 L771.2 760.3 L771.9 760.1 L772.6 763.0 L773.3 758.8 L774.0 758.5 L774.7 764.2 L775.4 758.8 L776.1 761.4 L776.8 756.5 L777.5 760.8 L778.2 759.8 L778.9 762.3 L779.6 768.8 L780.3 749.0 L781.0 757.8 L781.7 760.1 L782.4 761.8 L783.1 756.3 L783.8 761.2 L784.5 758.6 L785.2 761.7 L785.9 758.3 L786.6 771.3 L787.3 762.3 L788.0 764.1 L788.7 753.6 L789.4 758.9 L790.1 761.2 L790.8 767.7 L791.5 756.6 L792.2 763.2 L792.9 758.8 L793.6 761.1 L794.3 755.4 L795.0 755.4 L795.7 759.4 L796.4 764.9 L797.1 765.0 L797.8 761.5 L798.5 757.7 L799.2 766.1 L799.9 761.0 L800.6 759.1 L801.3 761.0 L802.0 760.7 L802.7 768.3 L803.4 762.3 L804.1 760.6 L804.8 760.9 L805.5 757.1 L806.2 766.8 L806.9 759.2 L807.6 763.0 L808.3 759.2 L809.0 759.9 L809.7 755.2 L810.4 763.0 L811.1 776.4 L811.8 768.9 L812.5 765.3 L813.2 767.7 L813.9 760.2 L814.6 755.8 L815.3 766.8 L816.0 760.6 L816.7 770.2 L817.4 767.8 L818.1 759.1 L818.8 761.8 L819.5 761.8 L820.2 765.7 L820.9 761.8 L821.6 763.0 L822.3 758.0 L823.0 768.7 L823.7 766.2 L824.4 763.5 L825.1 757.8 L825.8 763.8 L826.5 773.5 L827.2 764.7 L827.9 767.6 L828.6 756.0 L829.3 762.4 L830.0 762.6 L830.7 767.1 L831.4 760.1 L832.1 766.4 L832.8 767.2 L833.5 764.1 L834.2 762.5 L834.9 765.1 L835.6 760.1 L836.3 758.1 L837.0 757.8 L837.7 764.2 L838.4 762.7 L839.1 763.2 L839.8 761.7 L840.5 763.3 L841.2 770.0 L841.9 762.6 L842.6 760.6 L843.3 759.6 L844.0 760.5 L844.7 765.6 L845.4 763.0 L846.1 762.5 L846.8 763.1 L847.5 759.0 L848.2 760.8 L848.9 762.5 L849.6 762.5 L850.3 765.2 L851.0 766.9 L851.7 761.6 L852.4 765.0 L853.1 765.2 L853.8 761.9 L854.5 765.8 L855.2 767.3 L855.9 758.6 L856.6 765.5 L857.3 765.4 L858.0 765.2 L858.7 759.0 L859.4 767.5 L860.1 763.7 L860.8 761.5 L861.5 758.9 L862.2 765.6 L862.9 763.7 L863.6 759.7 L864.3 769.8 L865.0 760.2 L865.7 766.6 L866.4 761.1 L867.1 763.8 L867.8 766.7 L868.5 763.6 L869.2 766.3 L869.9 764.6 L870.6 769.7 L871.3 767.1 L872.0 766.4 L872.7 762.4 L873.4 763.4 L874.1 765.5 L874.8 770.6 L875.5 769.9 L876.2 765.6 L876.9 768.9 L877.6 765.6 L878.3 765.8 L879.0 765.6 L879.7 764.1 L880.4 766.9 L881.1 775.5 L881.8 764.3 L882.5 769.1 L883.2 768.3 L883.9 765.5 L884.6 767.9 L885.3 763.9 L886.0 765.9 L886.7 770.3 L887.4 770.7 L888.1 765.4 L888.8 764.9 L889.5 761.1 L890.2 768.0 L890.9 763.7 L891.6 762.7 L892.3 766.3 L893.0 765.4 L893.7 760.8 L894.4 769.5 L895.1 760.0 L895.8 760.1 L896.5 768.7 L897.2 764.5 L897.9 759.9 L898.6 769.0 L899.3 768.5 L900.0 764.4 L900.7 765.3 L901.4 766.2 L902.1 768.3 L902.8 765.2 L903.5 759.0 L904.2 765.3 L904.9 764.0 L905.6 760.3 L906.3 764.1 L907.0 762.2 L907.7 766.1 L908.4 769.7 L909.1 767.4 L909.8 775.1 L910.5 767.3 L911.2 766.4 L911.9 762.9 L912.6 768.8 L913.3 767.2 L914.0 760.6 L914.7 763.9 L915.4 768.2 L916.1 764.6 L916.8 767.5 L917.5 766.9 L918.2 778.3 L918.9 761.4 L919.6 765.8 L920.3 762.0 L921.0 763.5 L921.7 772.8 L922.4 769.5 L923.1 768.5 L923.8 766.4 L924.5 766.7 L925.2 773.3 L925.9 763.3 L926.6 771.0 L927.3 770.4 L928.0 763.9 L928.7 767.6 L929.4 764.6 L930.1 767.1 L930.8 769.9 L931.5 768.0 L932.2 771.1 L932.9 769.6 L933.6 759.9 L934.3 769.9 L935.0 759.9 L935.7 757.8 L936.4 766.2 L937.1 764.3 L937.8 774.1 L938.5 770.8 L939.2 770.3 L939.9 767.7 L940.6 770.5 L941.3 765.5 L942.0 771.2 L942.7 765.1 L943.4 767.2 L944.1 768.7 L944.8 763.8 L945.5 777.4 L946.2 768.6 L946.9 766.6 L947.6 764.9 L948.3 765.9 L949.0 767.9 L949.7 769.8 L950.4 763.3 L951.1 766.6 L951.8 774.0 L952.5 769.2 L953.2 768.3 L953.9 767.0 L954.6 767.6 L955.3 768.8 L956.0 772.8 L956.7 772.7 L957.4 766.7 L958.1 765.7 L958.8 770.1 L959.5 766.8 L960.2 771.7 L960.9 772.2 L961.6 766.3 L962.3 762.0 L963.0 764.3 L963.7 768.4 L964.4 765.0 L965.1 769.7 L965.8 769.4 L966.5 769.0 L967.2 768.4 L967.9 766.7 L968.6 770.8 L969.3 762.9 L970.0 770.4 L970.7 782.0 L971.4 773.1 L972.1 769.1 L972.8 768.3 L973.5 770.4 L974.2 768.8 L974.9 774.4 L975.6 767.5 L976.3 768.8 L977.0 765.7 L977.7 771.2 L978.4 764.5 L979.1 772.0 L979.8 771.2 L980.5 765.6 L981.4 770.8" fill="none" stroke="#5694cb" stroke-width="5.4" stroke-linejoin="round" stroke-linecap="round"/>
</g>
<line x1="220.4" y1="80" x2="220.4" y2="847" stroke="#000" stroke-width="5.6" stroke-dasharray="21 16.85" stroke-dashoffset="13.7"/>
<line x1="39.6" y1="845.8" x2="983.2" y2="845.8" stroke="#000" stroke-width="4"/>
<line x1="41.4" y1="832" x2="41.4" y2="846" stroke="#000" stroke-width="3.6"/><line x1="119.7" y1="839.5" x2="119.7" y2="846" stroke="#000" stroke-width="3"/><line x1="198.1" y1="832" x2="198.1" y2="846" stroke="#000" stroke-width="3.6"/><line x1="276.4" y1="839.5" x2="276.4" y2="846" stroke="#000" stroke-width="3"/><line x1="354.7" y1="832" x2="354.7" y2="846" stroke="#000" stroke-width="3.6"/><line x1="433.1" y1="839.5" x2="433.1" y2="846" stroke="#000" stroke-width="3"/><line x1="511.4" y1="832" x2="511.4" y2="846" stroke="#000" stroke-width="3.6"/><line x1="589.7" y1="839.5" x2="589.7" y2="846" stroke="#000" stroke-width="3"/><line x1="668.1" y1="832" x2="668.1" y2="846" stroke="#000" stroke-width="3.6"/><line x1="746.4" y1="839.5" x2="746.4" y2="846" stroke="#000" stroke-width="3"/><line x1="824.7" y1="832" x2="824.7" y2="846" stroke="#000" stroke-width="3.6"/><line x1="903.1" y1="839.5" x2="903.1" y2="846" stroke="#000" stroke-width="3"/><line x1="981.4" y1="832" x2="981.4" y2="846" stroke="#000" stroke-width="3.6"/>
<text x="41.0" y="883.6" text-anchor="middle" font-size="37.3">0</text><text x="194.4" y="883.6" text-anchor="middle" font-size="37.3">15</text><text x="354.8" y="883.6" text-anchor="middle" font-size="37.3">30</text><text x="506.4" y="883.6" text-anchor="middle" font-size="37.3">45</text><text x="666.7" y="883.6" text-anchor="middle" font-size="37.3">60</text><text x="829.5" y="883.6" text-anchor="middle" font-size="37.3">75</text><text x="981.0" y="883.6" text-anchor="middle" font-size="37.3">90</text>
<text x="516.3" y="929" text-anchor="middle" font-size="38.2">2θ/(°)</text>
<text x="225.8" y="58" text-anchor="middle" font-size="37.5">17.1°</text>
<line x1="651" y1="44.5" x2="731.5" y2="44.5" stroke="#000000" stroke-width="6" stroke-linecap="round"/><text x="746.3" y="57.7" font-size="37.3">P/P−r500</text><line x1="651" y1="107.6" x2="731.5" y2="107.6" stroke="#b5272f" stroke-width="6" stroke-linecap="round"/><text x="746.3" y="120.8" font-size="37.3">P/P−r1000</text><line x1="651" y1="170.7" x2="731.5" y2="170.7" stroke="#f4b034" stroke-width="6" stroke-linecap="round"/><text x="746.3" y="183.9" font-size="37.3">P/P−rl500</text><line x1="651" y1="233.4" x2="731.5" y2="233.4" stroke="#5694cb" stroke-width="6" stroke-linecap="round"/><text x="746.3" y="246.6" font-size="37.3">P/P−r2000</text>
</svg>
</body></html>
